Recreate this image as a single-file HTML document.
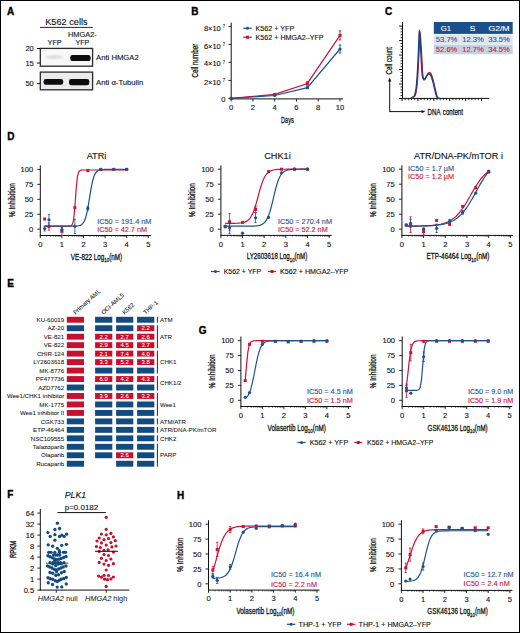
<!DOCTYPE html>
<html><head><meta charset="utf-8"><style>
html,body{margin:0;padding:0;background:#fff;}
body{width:520px;height:633px;overflow:hidden;}
svg{display:block;font-family:"Liberation Sans",sans-serif;}
</style></head><body>
<svg width="520" height="633" viewBox="0 0 520 633" fill="#111">
<rect x="0" y="0" width="520" height="633" fill="#fff"/>
<text x="7.00" y="14.60" font-size="10" font-weight="bold" fill="#000" stroke="#000" stroke-width="0.35">A</text>
<text x="45.20" y="24.60" font-size="9.2" stroke="#111" stroke-width="0.12">K562 cells</text>
<line x1="40.00" y1="27.40" x2="92.80" y2="27.40" stroke="#111" stroke-width="0.9"/>
<text x="82.40" y="36.60" font-size="7.4" text-anchor="middle" stroke="#111" stroke-width="0.12">HMGA2-</text>
<text x="54.60" y="44.60" font-size="7.2" text-anchor="middle" stroke="#111" stroke-width="0.12">YFP</text>
<text x="82.40" y="44.60" font-size="7.2" text-anchor="middle" stroke="#111" stroke-width="0.12">YFP</text>
<defs>
<linearGradient id="bg1" x1="0" y1="0" x2="0" y2="1"><stop offset="0" stop-color="#f4f4f4"/><stop offset="1" stop-color="#eeeeee"/></linearGradient>
<filter id="blur1" x="-20%" y="-50%" width="140%" height="200%"><feGaussianBlur stdDeviation="0.9"/></filter>
<filter id="blur2" x="-20%" y="-50%" width="140%" height="200%"><feGaussianBlur stdDeviation="0.6"/></filter>
</defs>
<rect x="40.30" y="48.40" width="52.30" height="17.80" fill="#f8f8f8" stroke="#2a2a2a" stroke-width="1.3"/>
<ellipse cx="54" cy="57" rx="9" ry="1.4" fill="#d4d4d4" filter="url(#blur1)"/>
<rect x="70.3" y="55.0" width="20.3" height="6.1" rx="2.2" fill="#111" filter="url(#blur2)"/>
<rect x="40.30" y="72.10" width="52.30" height="17.70" fill="#ebebeb" stroke="#2a2a2a" stroke-width="1.3"/>
<rect x="43.6" y="79.0" width="19.6" height="5.8" rx="2.2" fill="#111" filter="url(#blur2)"/>
<rect x="69.0" y="79.0" width="20.3" height="6.2" rx="2.2" fill="#111" filter="url(#blur2)"/>
<line x1="36.90" y1="48.50" x2="40.00" y2="48.50" stroke="#111" stroke-width="1"/>
<text x="33.80" y="51.25" font-size="7.5" text-anchor="end" stroke="#111" stroke-width="0.12">20</text>
<line x1="36.90" y1="63.00" x2="40.00" y2="63.00" stroke="#111" stroke-width="1"/>
<text x="33.80" y="65.75" font-size="7.5" text-anchor="end" stroke="#111" stroke-width="0.12">15</text>
<line x1="36.90" y1="83.60" x2="40.00" y2="83.60" stroke="#111" stroke-width="1"/>
<text x="33.80" y="86.35" font-size="7.5" text-anchor="end" stroke="#111" stroke-width="0.12">50</text>
<text x="96.00" y="59.80" font-size="7.7" stroke="#111" stroke-width="0.12">Anti HMGA2</text>
<text x="96.00" y="84.50" font-size="7.7" stroke="#111" stroke-width="0.12">Anti α-Tubulin</text>
<text x="191.20" y="15.00" font-size="10" font-weight="bold" fill="#000" stroke="#000" stroke-width="0.35">B</text>
<line x1="231.20" y1="22.60" x2="231.20" y2="99.35" stroke="#111" stroke-width="1"/>
<line x1="230.75" y1="98.90" x2="343.00" y2="98.90" stroke="#111" stroke-width="1"/>
<line x1="228.40" y1="98.40" x2="231.20" y2="98.40" stroke="#111" stroke-width="0.9"/>
<text x="225.40" y="101.60" font-size="7.6" text-anchor="end" stroke="#111" stroke-width="0.12">0</text>
<line x1="228.40" y1="80.40" x2="231.20" y2="80.40" stroke="#111" stroke-width="0.9"/>
<text x="220.80" y="84.50" font-size="7.5" text-anchor="end" stroke="#111" stroke-width="0.12">2×10</text>
<text x="222.50" y="81.60" font-size="4.8" stroke="#111" stroke-width="0.05">7</text>
<line x1="228.40" y1="62.30" x2="231.20" y2="62.30" stroke="#111" stroke-width="0.9"/>
<text x="220.80" y="66.40" font-size="7.5" text-anchor="end" stroke="#111" stroke-width="0.12">4×10</text>
<text x="222.50" y="63.50" font-size="4.8" stroke="#111" stroke-width="0.05">7</text>
<line x1="228.40" y1="44.40" x2="231.20" y2="44.40" stroke="#111" stroke-width="0.9"/>
<text x="220.80" y="48.50" font-size="7.5" text-anchor="end" stroke="#111" stroke-width="0.12">6×10</text>
<text x="222.50" y="45.60" font-size="4.8" stroke="#111" stroke-width="0.05">7</text>
<line x1="228.40" y1="26.40" x2="231.20" y2="26.40" stroke="#111" stroke-width="0.9"/>
<text x="220.80" y="30.50" font-size="7.5" text-anchor="end" stroke="#111" stroke-width="0.12">8×10</text>
<text x="222.50" y="27.60" font-size="4.8" stroke="#111" stroke-width="0.05">7</text>
<line x1="231.20" y1="98.90" x2="231.20" y2="101.50" stroke="#111" stroke-width="0.9"/>
<text x="231.20" y="109.90" font-size="7.6" text-anchor="middle" stroke="#111" stroke-width="0.12">0</text>
<line x1="252.96" y1="98.90" x2="252.96" y2="101.50" stroke="#111" stroke-width="0.9"/>
<text x="252.96" y="109.90" font-size="7.6" text-anchor="middle" stroke="#111" stroke-width="0.12">2</text>
<line x1="274.72" y1="98.90" x2="274.72" y2="101.50" stroke="#111" stroke-width="0.9"/>
<text x="274.72" y="109.90" font-size="7.6" text-anchor="middle" stroke="#111" stroke-width="0.12">4</text>
<line x1="296.48" y1="98.90" x2="296.48" y2="101.50" stroke="#111" stroke-width="0.9"/>
<text x="296.48" y="109.90" font-size="7.6" text-anchor="middle" stroke="#111" stroke-width="0.12">6</text>
<line x1="318.24" y1="98.90" x2="318.24" y2="101.50" stroke="#111" stroke-width="0.9"/>
<text x="318.24" y="109.90" font-size="7.6" text-anchor="middle" stroke="#111" stroke-width="0.12">8</text>
<line x1="340.00" y1="98.90" x2="340.00" y2="101.50" stroke="#111" stroke-width="0.9"/>
<text x="340.00" y="109.90" font-size="7.6" text-anchor="middle" stroke="#111" stroke-width="0.12">10</text>
<text transform="translate(287.40 122.60) scale(0.6242 1)" x="0" y="0" text-anchor="middle" stroke="#111" stroke-width="0.28"><tspan font-size="9">Days</tspan></text>
<text transform="translate(197.80 60.60) rotate(-90) scale(0.6945 1)" x="0" y="0" text-anchor="middle" stroke="#111" stroke-width="0.28"><tspan font-size="9">Cell number</tspan></text>
<path d="M231.20,98.40 L274.72,94.44 L307.36,83.46 L340.00,35.40" stroke="#cc1236" stroke-width="1.2" fill="none"/>
<path d="M231.20,98.40 L274.72,95.52 L307.36,87.69 L340.00,48.99" stroke="#1d5290" stroke-width="1.2" fill="none"/>
<line x1="340.00" y1="30.90" x2="340.00" y2="39.90" stroke="#cc1236" stroke-width="0.9"/>
<line x1="338.70" y1="30.90" x2="341.30" y2="30.90" stroke="#cc1236" stroke-width="0.9"/>
<line x1="338.70" y1="39.90" x2="341.30" y2="39.90" stroke="#cc1236" stroke-width="0.9"/>
<line x1="307.36" y1="81.66" x2="307.36" y2="85.26" stroke="#cc1236" stroke-width="0.9"/>
<line x1="306.06" y1="81.66" x2="308.66" y2="81.66" stroke="#cc1236" stroke-width="0.9"/>
<line x1="306.06" y1="85.26" x2="308.66" y2="85.26" stroke="#cc1236" stroke-width="0.9"/>
<line x1="340.00" y1="44.94" x2="340.00" y2="53.04" stroke="#1d5290" stroke-width="0.9"/>
<line x1="338.70" y1="44.94" x2="341.30" y2="44.94" stroke="#1d5290" stroke-width="0.9"/>
<line x1="338.70" y1="53.04" x2="341.30" y2="53.04" stroke="#1d5290" stroke-width="0.9"/>
<line x1="307.36" y1="86.79" x2="307.36" y2="88.59" stroke="#1d5290" stroke-width="0.9"/>
<line x1="306.06" y1="86.79" x2="308.66" y2="86.79" stroke="#1d5290" stroke-width="0.9"/>
<line x1="306.06" y1="88.59" x2="308.66" y2="88.59" stroke="#1d5290" stroke-width="0.9"/>
<rect x="229.70" y="96.90" width="3.00" height="3.00" fill="#cc1236"/>
<rect x="273.22" y="92.94" width="3.00" height="3.00" fill="#cc1236"/>
<rect x="305.86" y="81.96" width="3.00" height="3.00" fill="#cc1236"/>
<rect x="338.50" y="33.90" width="3.00" height="3.00" fill="#cc1236"/>
<circle cx="231.20" cy="98.40" r="1.6" fill="#1d5290"/>
<circle cx="274.72" cy="95.52" r="1.6" fill="#1d5290"/>
<circle cx="307.36" cy="87.69" r="1.6" fill="#1d5290"/>
<circle cx="340.00" cy="48.99" r="1.6" fill="#1d5290"/>
<line x1="243.30" y1="28.20" x2="251.80" y2="28.20" stroke="#1d5290" stroke-width="1.2"/>
<circle cx="247.50" cy="28.20" r="1.5" fill="#1d5290"/>
<text x="255.60" y="30.70" font-size="7.2" textLength="38.6" lengthAdjust="spacingAndGlyphs" stroke="#111" stroke-width="0.12">K562 + YFP</text>
<line x1="243.30" y1="37.20" x2="251.80" y2="37.20" stroke="#cc1236" stroke-width="1.2"/>
<rect x="246.00" y="35.70" width="3.00" height="3.00" fill="#cc1236"/>
<text x="255.60" y="39.70" font-size="7.2" textLength="68" lengthAdjust="spacingAndGlyphs" stroke="#111" stroke-width="0.12">K562 + HMGA2–YFP</text>
<text x="385.00" y="14.80" font-size="10" font-weight="bold" fill="#000" stroke="#000" stroke-width="0.35">C</text>
<line x1="402.50" y1="22.00" x2="402.50" y2="98.90" stroke="#111" stroke-width="1"/>
<line x1="402.00" y1="98.40" x2="489.30" y2="98.40" stroke="#111" stroke-width="1"/>
<line x1="399.10" y1="98.50" x2="402.50" y2="98.50" stroke="#111" stroke-width="1.0"/>
<line x1="400.50" y1="95.60" x2="402.50" y2="95.60" stroke="#111" stroke-width="0.9"/>
<line x1="400.50" y1="92.71" x2="402.50" y2="92.71" stroke="#111" stroke-width="0.9"/>
<line x1="400.50" y1="89.81" x2="402.50" y2="89.81" stroke="#111" stroke-width="0.9"/>
<line x1="400.50" y1="86.92" x2="402.50" y2="86.92" stroke="#111" stroke-width="0.9"/>
<line x1="399.10" y1="84.02" x2="402.50" y2="84.02" stroke="#111" stroke-width="1.0"/>
<line x1="400.50" y1="81.12" x2="402.50" y2="81.12" stroke="#111" stroke-width="0.9"/>
<line x1="400.50" y1="78.23" x2="402.50" y2="78.23" stroke="#111" stroke-width="0.9"/>
<line x1="400.50" y1="75.33" x2="402.50" y2="75.33" stroke="#111" stroke-width="0.9"/>
<line x1="400.50" y1="72.44" x2="402.50" y2="72.44" stroke="#111" stroke-width="0.9"/>
<line x1="399.10" y1="69.54" x2="402.50" y2="69.54" stroke="#111" stroke-width="1.0"/>
<line x1="400.50" y1="66.64" x2="402.50" y2="66.64" stroke="#111" stroke-width="0.9"/>
<line x1="400.50" y1="63.75" x2="402.50" y2="63.75" stroke="#111" stroke-width="0.9"/>
<line x1="400.50" y1="60.85" x2="402.50" y2="60.85" stroke="#111" stroke-width="0.9"/>
<line x1="400.50" y1="57.96" x2="402.50" y2="57.96" stroke="#111" stroke-width="0.9"/>
<line x1="399.10" y1="55.06" x2="402.50" y2="55.06" stroke="#111" stroke-width="1.0"/>
<line x1="400.50" y1="52.16" x2="402.50" y2="52.16" stroke="#111" stroke-width="0.9"/>
<line x1="400.50" y1="49.27" x2="402.50" y2="49.27" stroke="#111" stroke-width="0.9"/>
<line x1="400.50" y1="46.37" x2="402.50" y2="46.37" stroke="#111" stroke-width="0.9"/>
<line x1="400.50" y1="43.48" x2="402.50" y2="43.48" stroke="#111" stroke-width="0.9"/>
<line x1="399.10" y1="40.58" x2="402.50" y2="40.58" stroke="#111" stroke-width="1.0"/>
<line x1="400.50" y1="37.68" x2="402.50" y2="37.68" stroke="#111" stroke-width="0.9"/>
<line x1="400.50" y1="34.79" x2="402.50" y2="34.79" stroke="#111" stroke-width="0.9"/>
<line x1="400.50" y1="31.89" x2="402.50" y2="31.89" stroke="#111" stroke-width="0.9"/>
<line x1="400.50" y1="29.00" x2="402.50" y2="29.00" stroke="#111" stroke-width="0.9"/>
<line x1="399.10" y1="26.10" x2="402.50" y2="26.10" stroke="#111" stroke-width="1.0"/>
<line x1="402.00" y1="98.40" x2="402.00" y2="101.00" stroke="#111" stroke-width="1.0"/>
<line x1="405.18" y1="98.40" x2="405.18" y2="100.20" stroke="#111" stroke-width="0.9"/>
<line x1="408.36" y1="98.40" x2="408.36" y2="100.20" stroke="#111" stroke-width="0.9"/>
<line x1="411.54" y1="98.40" x2="411.54" y2="100.20" stroke="#111" stroke-width="0.9"/>
<line x1="414.72" y1="98.40" x2="414.72" y2="100.20" stroke="#111" stroke-width="0.9"/>
<line x1="417.90" y1="98.40" x2="417.90" y2="101.00" stroke="#111" stroke-width="1.0"/>
<line x1="421.08" y1="98.40" x2="421.08" y2="100.20" stroke="#111" stroke-width="0.9"/>
<line x1="424.26" y1="98.40" x2="424.26" y2="100.20" stroke="#111" stroke-width="0.9"/>
<line x1="427.44" y1="98.40" x2="427.44" y2="100.20" stroke="#111" stroke-width="0.9"/>
<line x1="430.62" y1="98.40" x2="430.62" y2="100.20" stroke="#111" stroke-width="0.9"/>
<line x1="433.80" y1="98.40" x2="433.80" y2="101.00" stroke="#111" stroke-width="1.0"/>
<line x1="436.98" y1="98.40" x2="436.98" y2="100.20" stroke="#111" stroke-width="0.9"/>
<line x1="440.16" y1="98.40" x2="440.16" y2="100.20" stroke="#111" stroke-width="0.9"/>
<line x1="443.34" y1="98.40" x2="443.34" y2="100.20" stroke="#111" stroke-width="0.9"/>
<line x1="446.52" y1="98.40" x2="446.52" y2="100.20" stroke="#111" stroke-width="0.9"/>
<line x1="449.70" y1="98.40" x2="449.70" y2="101.00" stroke="#111" stroke-width="1.0"/>
<line x1="452.88" y1="98.40" x2="452.88" y2="100.20" stroke="#111" stroke-width="0.9"/>
<line x1="456.06" y1="98.40" x2="456.06" y2="100.20" stroke="#111" stroke-width="0.9"/>
<line x1="459.24" y1="98.40" x2="459.24" y2="100.20" stroke="#111" stroke-width="0.9"/>
<line x1="462.42" y1="98.40" x2="462.42" y2="100.20" stroke="#111" stroke-width="0.9"/>
<line x1="465.60" y1="98.40" x2="465.60" y2="101.00" stroke="#111" stroke-width="1.0"/>
<line x1="468.78" y1="98.40" x2="468.78" y2="100.20" stroke="#111" stroke-width="0.9"/>
<line x1="471.96" y1="98.40" x2="471.96" y2="100.20" stroke="#111" stroke-width="0.9"/>
<line x1="475.14" y1="98.40" x2="475.14" y2="100.20" stroke="#111" stroke-width="0.9"/>
<line x1="478.32" y1="98.40" x2="478.32" y2="100.20" stroke="#111" stroke-width="0.9"/>
<line x1="481.50" y1="98.40" x2="481.50" y2="101.00" stroke="#111" stroke-width="1.0"/>
<line x1="389.70" y1="111.60" x2="389.70" y2="80.50" stroke="#111" stroke-width="1"/>
<path d="M389.7,77.6 L391.4,81.4 L388.0,81.4 Z" fill="#1a1a1a"/>
<line x1="389.20" y1="111.60" x2="422.40" y2="111.60" stroke="#111" stroke-width="1"/>
<path d="M425.4,111.6 L421.6,113.3 L421.6,109.9 Z" fill="#1a1a1a"/>
<text transform="translate(427.60 114.70) scale(0.6934 1)" x="0" y="0" text-anchor="start" stroke="#111" stroke-width="0.28" word-spacing="1.5"><tspan font-size="8.8">DNA content</tspan></text>
<text transform="translate(392.40 60.70) rotate(-90) scale(0.6896 1)" x="0" y="0" text-anchor="middle" stroke="#111" stroke-width="0.28"><tspan font-size="9">Cell count</tspan></text>
<path d="M410.50,98.40 C410.77,98.30 411.33,98.30 412.10,97.80 C412.87,97.30 414.32,97.08 415.10,95.40 C415.88,93.72 416.32,91.55 416.80,87.70 C417.28,83.85 417.65,77.82 418.00,72.30 C418.35,66.78 418.62,60.33 418.90,54.60 C419.18,48.87 419.50,41.58 419.70,37.90 C419.90,34.22 419.95,32.50 420.10,32.50 C420.25,32.50 420.35,34.22 420.60,37.90 C420.85,41.58 421.23,48.47 421.60,54.60 C421.97,60.73 422.35,70.52 422.80,74.70 C423.25,78.88 423.73,79.40 424.30,79.70 C424.87,80.00 425.48,77.63 426.20,76.50 C426.92,75.37 428.00,73.55 428.60,72.90 C429.20,72.25 429.32,72.30 429.80,72.60 C430.28,72.90 430.90,73.27 431.50,74.70 C432.10,76.13 432.78,78.83 433.40,81.20 C434.02,83.57 434.60,86.43 435.20,88.90 C435.80,91.37 436.52,94.47 437.00,96.00 C437.48,97.53 437.68,97.70 438.10,98.10 C438.52,98.50 439.27,98.35 439.50,98.40" stroke="#cc1236" stroke-width="1.3" fill="none"/>
<path d="M410.50,98.40 C410.77,98.30 411.43,98.30 412.10,97.80 C412.77,97.30 413.82,97.08 414.50,95.40 C415.18,93.72 415.72,91.55 416.20,87.70 C416.68,83.85 417.05,77.82 417.40,72.30 C417.75,66.78 418.03,60.70 418.30,54.60 C418.57,48.50 418.82,39.75 419.00,35.70 C419.18,31.65 419.25,30.30 419.40,30.30 C419.55,30.30 419.63,31.65 419.90,35.70 C420.17,39.75 420.62,48.10 421.00,54.60 C421.38,61.10 421.75,70.52 422.20,74.70 C422.65,78.88 423.12,79.20 423.70,79.70 C424.28,80.20 424.97,78.63 425.70,77.70 C426.43,76.77 427.50,74.75 428.10,74.10 C428.70,73.45 428.82,73.50 429.30,73.80 C429.78,74.10 430.42,74.67 431.00,75.90 C431.58,77.13 432.20,79.03 432.80,81.20 C433.40,83.37 434.00,86.43 434.60,88.90 C435.20,91.37 435.82,94.47 436.40,96.00 C436.98,97.53 437.58,97.70 438.10,98.10 C438.62,98.50 439.27,98.35 439.50,98.40" stroke="#1b427f" stroke-width="1.4" fill="none"/>
<rect x="433.80" y="22.00" width="78.90" height="11.90" fill="#1a4f8b"/>
<rect x="433.80" y="34.70" width="78.90" height="9.30" fill="#dfe6ef"/>
<rect x="433.80" y="44.60" width="78.90" height="9.70" fill="#c4d3e3"/>
<text x="445.80" y="31.20" font-size="7.8" text-anchor="middle" fill="#fff" textLength="10.1" lengthAdjust="spacingAndGlyphs" stroke="#fff" stroke-width="0.12">G1</text>
<text x="472.60" y="31.20" font-size="7.8" text-anchor="middle" fill="#fff" textLength="5.6" lengthAdjust="spacingAndGlyphs" stroke="#fff" stroke-width="0.12">S</text>
<text x="499.00" y="31.20" font-size="7.8" text-anchor="middle" fill="#fff" textLength="21.2" lengthAdjust="spacingAndGlyphs" stroke="#fff" stroke-width="0.12">G2/M</text>
<text x="446.60" y="41.50" font-size="7.5" text-anchor="middle" fill="#2b5c92" textLength="21.5" lengthAdjust="spacingAndGlyphs" stroke="#2b5c92" stroke-width="0.12">53.7%</text>
<text x="473.05" y="41.50" font-size="7.5" text-anchor="middle" fill="#2b5c92" textLength="21.5" lengthAdjust="spacingAndGlyphs" stroke="#2b5c92" stroke-width="0.12">12.3%</text>
<text x="499.00" y="41.50" font-size="7.5" text-anchor="middle" fill="#2b5c92" textLength="21.5" lengthAdjust="spacingAndGlyphs" stroke="#2b5c92" stroke-width="0.12">33.5%</text>
<text x="446.60" y="51.50" font-size="7.5" text-anchor="middle" fill="#c81d3b" textLength="21.5" lengthAdjust="spacingAndGlyphs" stroke="#c81d3b" stroke-width="0.12">52.6%</text>
<text x="473.05" y="51.50" font-size="7.5" text-anchor="middle" fill="#c81d3b" textLength="21.5" lengthAdjust="spacingAndGlyphs" stroke="#c81d3b" stroke-width="0.12">12.7%</text>
<text x="499.00" y="51.50" font-size="7.5" text-anchor="middle" fill="#c81d3b" textLength="21.5" lengthAdjust="spacingAndGlyphs" stroke="#c81d3b" stroke-width="0.12">34.5%</text>
<text x="7.30" y="139.80" font-size="10" font-weight="bold" fill="#000" stroke="#000" stroke-width="0.35">D</text>
<line x1="40.30" y1="165.40" x2="40.30" y2="236.00" stroke="#111" stroke-width="1"/>
<line x1="39.80" y1="235.50" x2="150.80" y2="235.50" stroke="#111" stroke-width="1"/>
<line x1="37.30" y1="229.20" x2="40.30" y2="229.20" stroke="#111" stroke-width="0.9"/>
<text x="33.20" y="231.90" font-size="7.6" text-anchor="end" stroke="#111" stroke-width="0.12">0</text>
<line x1="37.30" y1="214.25" x2="40.30" y2="214.25" stroke="#111" stroke-width="0.9"/>
<text x="33.20" y="216.95" font-size="7.6" text-anchor="end" stroke="#111" stroke-width="0.12">25</text>
<line x1="37.30" y1="199.30" x2="40.30" y2="199.30" stroke="#111" stroke-width="0.9"/>
<text x="33.20" y="202.00" font-size="7.6" text-anchor="end" stroke="#111" stroke-width="0.12">50</text>
<line x1="37.30" y1="184.35" x2="40.30" y2="184.35" stroke="#111" stroke-width="0.9"/>
<text x="33.20" y="187.05" font-size="7.6" text-anchor="end" stroke="#111" stroke-width="0.12">75</text>
<line x1="37.30" y1="169.40" x2="40.30" y2="169.40" stroke="#111" stroke-width="0.9"/>
<text x="33.20" y="172.10" font-size="7.6" text-anchor="end" stroke="#111" stroke-width="0.12">100</text>
<line x1="40.30" y1="235.50" x2="40.30" y2="238.10" stroke="#111" stroke-width="0.9"/>
<text x="40.30" y="246.80" font-size="7.6" text-anchor="middle" stroke="#111" stroke-width="0.12">0</text>
<line x1="46.80" y1="235.50" x2="46.80" y2="236.80" stroke="#111" stroke-width="0.6"/>
<line x1="50.61" y1="235.50" x2="50.61" y2="236.80" stroke="#111" stroke-width="0.6"/>
<line x1="53.30" y1="235.50" x2="53.30" y2="236.80" stroke="#111" stroke-width="0.6"/>
<line x1="55.40" y1="235.50" x2="55.40" y2="236.80" stroke="#111" stroke-width="0.6"/>
<line x1="57.11" y1="235.50" x2="57.11" y2="236.80" stroke="#111" stroke-width="0.6"/>
<line x1="58.55" y1="235.50" x2="58.55" y2="236.80" stroke="#111" stroke-width="0.6"/>
<line x1="59.81" y1="235.50" x2="59.81" y2="236.80" stroke="#111" stroke-width="0.6"/>
<line x1="60.91" y1="235.50" x2="60.91" y2="236.80" stroke="#111" stroke-width="0.6"/>
<line x1="61.90" y1="235.50" x2="61.90" y2="238.10" stroke="#111" stroke-width="0.9"/>
<text x="61.90" y="246.80" font-size="7.6" text-anchor="middle" stroke="#111" stroke-width="0.12">1</text>
<line x1="68.40" y1="235.50" x2="68.40" y2="236.80" stroke="#111" stroke-width="0.6"/>
<line x1="72.21" y1="235.50" x2="72.21" y2="236.80" stroke="#111" stroke-width="0.6"/>
<line x1="74.90" y1="235.50" x2="74.90" y2="236.80" stroke="#111" stroke-width="0.6"/>
<line x1="77.00" y1="235.50" x2="77.00" y2="236.80" stroke="#111" stroke-width="0.6"/>
<line x1="78.71" y1="235.50" x2="78.71" y2="236.80" stroke="#111" stroke-width="0.6"/>
<line x1="80.15" y1="235.50" x2="80.15" y2="236.80" stroke="#111" stroke-width="0.6"/>
<line x1="81.41" y1="235.50" x2="81.41" y2="236.80" stroke="#111" stroke-width="0.6"/>
<line x1="82.51" y1="235.50" x2="82.51" y2="236.80" stroke="#111" stroke-width="0.6"/>
<line x1="83.50" y1="235.50" x2="83.50" y2="238.10" stroke="#111" stroke-width="0.9"/>
<text x="83.50" y="246.80" font-size="7.6" text-anchor="middle" stroke="#111" stroke-width="0.12">2</text>
<line x1="90.00" y1="235.50" x2="90.00" y2="236.80" stroke="#111" stroke-width="0.6"/>
<line x1="93.81" y1="235.50" x2="93.81" y2="236.80" stroke="#111" stroke-width="0.6"/>
<line x1="96.50" y1="235.50" x2="96.50" y2="236.80" stroke="#111" stroke-width="0.6"/>
<line x1="98.60" y1="235.50" x2="98.60" y2="236.80" stroke="#111" stroke-width="0.6"/>
<line x1="100.31" y1="235.50" x2="100.31" y2="236.80" stroke="#111" stroke-width="0.6"/>
<line x1="101.75" y1="235.50" x2="101.75" y2="236.80" stroke="#111" stroke-width="0.6"/>
<line x1="103.01" y1="235.50" x2="103.01" y2="236.80" stroke="#111" stroke-width="0.6"/>
<line x1="104.11" y1="235.50" x2="104.11" y2="236.80" stroke="#111" stroke-width="0.6"/>
<line x1="105.10" y1="235.50" x2="105.10" y2="238.10" stroke="#111" stroke-width="0.9"/>
<text x="105.10" y="246.80" font-size="7.6" text-anchor="middle" stroke="#111" stroke-width="0.12">3</text>
<line x1="111.60" y1="235.50" x2="111.60" y2="236.80" stroke="#111" stroke-width="0.6"/>
<line x1="115.41" y1="235.50" x2="115.41" y2="236.80" stroke="#111" stroke-width="0.6"/>
<line x1="118.10" y1="235.50" x2="118.10" y2="236.80" stroke="#111" stroke-width="0.6"/>
<line x1="120.20" y1="235.50" x2="120.20" y2="236.80" stroke="#111" stroke-width="0.6"/>
<line x1="121.91" y1="235.50" x2="121.91" y2="236.80" stroke="#111" stroke-width="0.6"/>
<line x1="123.35" y1="235.50" x2="123.35" y2="236.80" stroke="#111" stroke-width="0.6"/>
<line x1="124.61" y1="235.50" x2="124.61" y2="236.80" stroke="#111" stroke-width="0.6"/>
<line x1="125.71" y1="235.50" x2="125.71" y2="236.80" stroke="#111" stroke-width="0.6"/>
<line x1="126.70" y1="235.50" x2="126.70" y2="238.10" stroke="#111" stroke-width="0.9"/>
<text x="126.70" y="246.80" font-size="7.6" text-anchor="middle" stroke="#111" stroke-width="0.12">4</text>
<line x1="133.20" y1="235.50" x2="133.20" y2="236.80" stroke="#111" stroke-width="0.6"/>
<line x1="137.01" y1="235.50" x2="137.01" y2="236.80" stroke="#111" stroke-width="0.6"/>
<line x1="139.70" y1="235.50" x2="139.70" y2="236.80" stroke="#111" stroke-width="0.6"/>
<line x1="141.80" y1="235.50" x2="141.80" y2="236.80" stroke="#111" stroke-width="0.6"/>
<line x1="143.51" y1="235.50" x2="143.51" y2="236.80" stroke="#111" stroke-width="0.6"/>
<line x1="144.95" y1="235.50" x2="144.95" y2="236.80" stroke="#111" stroke-width="0.6"/>
<line x1="146.21" y1="235.50" x2="146.21" y2="236.80" stroke="#111" stroke-width="0.6"/>
<line x1="147.31" y1="235.50" x2="147.31" y2="236.80" stroke="#111" stroke-width="0.6"/>
<line x1="148.30" y1="235.50" x2="148.30" y2="238.10" stroke="#111" stroke-width="0.9"/>
<text x="148.30" y="246.80" font-size="7.6" text-anchor="middle" stroke="#111" stroke-width="0.12">5</text>
<text transform="translate(96.50 259.50) scale(0.7540 1)" x="0" y="0" text-anchor="middle" stroke="#111" stroke-width="0.28"><tspan font-size="8.4">VE-822 Log</tspan><tspan font-size="5.88" dy="2.10">10</tspan><tspan font-size="8.4" dy="-2.1">(nM)</tspan></text>
<text transform="translate(14.50 200.25) rotate(-90) scale(0.7517 1)" x="0" y="0" text-anchor="middle" stroke="#111" stroke-width="0.28"><tspan font-size="8.8">% Inhibition</tspan></text>
<text x="96.50" y="159.20" font-size="9.2" text-anchor="middle" stroke="#111" stroke-width="0.12">ATRi</text>
<path d="M44.62,226.21 L45.99,226.21 L47.36,226.21 L48.72,226.21 L50.09,226.21 L51.46,226.21 L52.83,226.21 L54.20,226.21 L55.56,226.21 L56.93,226.21 L58.30,226.21 L59.67,226.21 L61.04,226.21 L62.40,226.21 L63.77,226.21 L65.14,226.21 L66.51,226.21 L67.88,226.19 L69.24,226.14 L70.61,225.91 L71.98,224.93 L73.35,221.10 L74.72,209.31 L76.08,189.74 L77.45,176.28 L78.82,171.60 L80.19,170.38 L81.56,170.09 L82.92,170.02 L84.29,170.00 L85.66,170.00 L87.03,170.00 L88.40,170.00 L89.76,170.00 L91.13,170.00 L92.50,170.00 L93.87,170.00 L95.24,170.00 L96.60,170.00 L97.97,170.00 L99.34,170.00 L100.71,170.00 L102.08,170.00 L103.44,170.00 L104.81,170.00 L106.18,170.00 L107.55,170.00 L108.92,170.00 L110.28,170.00 L111.65,170.00 L113.02,170.00 L114.39,170.00 L115.76,170.00 L117.12,170.00 L118.49,170.00 L119.86,170.00 L121.23,170.00 L122.60,170.00 L123.96,170.00 L125.33,170.00 L126.70,170.00" stroke="#cc1236" stroke-width="1.2" fill="none"/>
<path d="M44.62,226.21 L45.99,226.21 L47.36,226.21 L48.72,226.21 L50.09,226.21 L51.46,226.21 L52.83,226.21 L54.20,226.21 L55.56,226.21 L56.93,226.21 L58.30,226.21 L59.67,226.21 L61.04,226.21 L62.40,226.21 L63.77,226.21 L65.14,226.21 L66.51,226.21 L67.88,226.21 L69.24,226.20 L70.61,226.20 L71.98,226.19 L73.35,226.17 L74.72,226.14 L76.08,226.07 L77.45,225.96 L78.82,225.75 L80.19,225.36 L81.56,224.67 L82.92,223.43 L84.29,221.28 L85.66,217.73 L87.03,212.32 L88.40,204.97 L89.76,196.43 L91.13,188.13 L92.50,181.36 L93.87,176.57 L95.24,173.53 L96.60,171.71 L97.97,170.68 L99.34,170.10 L100.71,169.78 L102.08,169.61 L103.44,169.51 L104.81,169.46 L106.18,169.43 L107.55,169.42 L108.92,169.41 L110.28,169.41 L111.65,169.40 L113.02,169.40 L114.39,169.40 L115.76,169.40 L117.12,169.40 L118.49,169.40 L119.86,169.40 L121.23,169.40 L122.60,169.40 L123.96,169.40 L125.33,169.40 L126.70,169.40" stroke="#1d5290" stroke-width="1.2" fill="none"/>
<rect x="43.12" y="217.53" width="3.00" height="3.00" fill="#cc1236"/>
<line x1="48.94" y1="222.98" x2="48.94" y2="230.16" stroke="#cc1236" stroke-width="0.8"/>
<line x1="47.74" y1="222.98" x2="50.14" y2="222.98" stroke="#cc1236" stroke-width="0.8"/>
<line x1="47.74" y1="230.16" x2="50.14" y2="230.16" stroke="#cc1236" stroke-width="0.8"/>
<rect x="47.44" y="225.07" width="3.00" height="3.00" fill="#cc1236"/>
<line x1="61.90" y1="227.17" x2="61.90" y2="235.54" stroke="#cc1236" stroke-width="0.8"/>
<line x1="60.70" y1="227.17" x2="63.10" y2="227.17" stroke="#cc1236" stroke-width="0.8"/>
<line x1="60.70" y1="235.54" x2="63.10" y2="235.54" stroke="#cc1236" stroke-width="0.8"/>
<rect x="60.40" y="229.85" width="3.00" height="3.00" fill="#cc1236"/>
<rect x="73.36" y="206.17" width="3.00" height="3.00" fill="#cc1236"/>
<rect x="86.32" y="169.10" width="3.00" height="3.00" fill="#cc1236"/>
<rect x="99.28" y="167.90" width="3.00" height="3.00" fill="#cc1236"/>
<rect x="112.24" y="167.90" width="3.00" height="3.00" fill="#cc1236"/>
<rect x="125.20" y="167.90" width="3.00" height="3.00" fill="#cc1236"/>
<line x1="44.62" y1="226.21" x2="44.62" y2="230.99" stroke="#1d5290" stroke-width="0.8"/>
<line x1="43.42" y1="226.21" x2="45.82" y2="226.21" stroke="#1d5290" stroke-width="0.8"/>
<line x1="43.42" y1="230.99" x2="45.82" y2="230.99" stroke="#1d5290" stroke-width="0.8"/>
<circle cx="44.62" cy="228.60" r="1.6" fill="#1d5290"/>
<line x1="48.94" y1="214.37" x2="48.94" y2="225.13" stroke="#1d5290" stroke-width="0.8"/>
<line x1="47.74" y1="214.37" x2="50.14" y2="214.37" stroke="#1d5290" stroke-width="0.8"/>
<line x1="47.74" y1="225.13" x2="50.14" y2="225.13" stroke="#1d5290" stroke-width="0.8"/>
<circle cx="48.94" cy="219.75" r="1.6" fill="#1d5290"/>
<line x1="61.90" y1="227.11" x2="61.90" y2="231.89" stroke="#1d5290" stroke-width="0.8"/>
<line x1="60.70" y1="227.11" x2="63.10" y2="227.11" stroke="#1d5290" stroke-width="0.8"/>
<line x1="60.70" y1="231.89" x2="63.10" y2="231.89" stroke="#1d5290" stroke-width="0.8"/>
<circle cx="61.90" cy="229.50" r="1.6" fill="#1d5290"/>
<line x1="74.86" y1="219.15" x2="74.86" y2="233.51" stroke="#1d5290" stroke-width="0.8"/>
<line x1="73.66" y1="219.15" x2="76.06" y2="219.15" stroke="#1d5290" stroke-width="0.8"/>
<line x1="73.66" y1="233.51" x2="76.06" y2="233.51" stroke="#1d5290" stroke-width="0.8"/>
<circle cx="74.86" cy="226.33" r="1.6" fill="#1d5290"/>
<line x1="87.82" y1="206.66" x2="87.82" y2="210.24" stroke="#1d5290" stroke-width="0.8"/>
<line x1="86.62" y1="206.66" x2="89.02" y2="206.66" stroke="#1d5290" stroke-width="0.8"/>
<line x1="86.62" y1="210.24" x2="89.02" y2="210.24" stroke="#1d5290" stroke-width="0.8"/>
<circle cx="87.82" cy="208.45" r="1.6" fill="#1d5290"/>
<circle cx="100.78" cy="169.40" r="1.6" fill="#1d5290"/>
<circle cx="113.74" cy="169.40" r="1.6" fill="#1d5290"/>
<circle cx="126.70" cy="169.40" r="1.6" fill="#1d5290"/>
<text x="97.20" y="224.10" font-size="7.3" fill="#1d5290" textLength="54.2" lengthAdjust="spacingAndGlyphs" stroke="#1d5290" stroke-width="0.12">IC50 = 191.4 nM</text>
<text x="97.20" y="232.20" font-size="7.3" fill="#cc1236" textLength="49.8" lengthAdjust="spacingAndGlyphs" stroke="#cc1236" stroke-width="0.12">IC50 = 42.7 nM</text>
<line x1="220.90" y1="165.30" x2="220.90" y2="235.90" stroke="#111" stroke-width="1"/>
<line x1="220.40" y1="235.40" x2="331.65" y2="235.40" stroke="#111" stroke-width="1"/>
<line x1="217.90" y1="229.20" x2="220.90" y2="229.20" stroke="#111" stroke-width="0.9"/>
<text x="213.80" y="231.90" font-size="7.6" text-anchor="end" stroke="#111" stroke-width="0.12">0</text>
<line x1="217.90" y1="214.20" x2="220.90" y2="214.20" stroke="#111" stroke-width="0.9"/>
<text x="213.80" y="216.90" font-size="7.6" text-anchor="end" stroke="#111" stroke-width="0.12">25</text>
<line x1="217.90" y1="199.20" x2="220.90" y2="199.20" stroke="#111" stroke-width="0.9"/>
<text x="213.80" y="201.90" font-size="7.6" text-anchor="end" stroke="#111" stroke-width="0.12">50</text>
<line x1="217.90" y1="184.20" x2="220.90" y2="184.20" stroke="#111" stroke-width="0.9"/>
<text x="213.80" y="186.90" font-size="7.6" text-anchor="end" stroke="#111" stroke-width="0.12">75</text>
<line x1="217.90" y1="169.20" x2="220.90" y2="169.20" stroke="#111" stroke-width="0.9"/>
<text x="213.80" y="171.90" font-size="7.6" text-anchor="end" stroke="#111" stroke-width="0.12">100</text>
<line x1="220.90" y1="235.40" x2="220.90" y2="238.00" stroke="#111" stroke-width="0.9"/>
<text x="220.90" y="246.70" font-size="7.6" text-anchor="middle" stroke="#111" stroke-width="0.12">0</text>
<line x1="227.42" y1="235.40" x2="227.42" y2="236.70" stroke="#111" stroke-width="0.6"/>
<line x1="231.23" y1="235.40" x2="231.23" y2="236.70" stroke="#111" stroke-width="0.6"/>
<line x1="233.93" y1="235.40" x2="233.93" y2="236.70" stroke="#111" stroke-width="0.6"/>
<line x1="236.03" y1="235.40" x2="236.03" y2="236.70" stroke="#111" stroke-width="0.6"/>
<line x1="237.75" y1="235.40" x2="237.75" y2="236.70" stroke="#111" stroke-width="0.6"/>
<line x1="239.20" y1="235.40" x2="239.20" y2="236.70" stroke="#111" stroke-width="0.6"/>
<line x1="240.45" y1="235.40" x2="240.45" y2="236.70" stroke="#111" stroke-width="0.6"/>
<line x1="241.56" y1="235.40" x2="241.56" y2="236.70" stroke="#111" stroke-width="0.6"/>
<line x1="242.55" y1="235.40" x2="242.55" y2="238.00" stroke="#111" stroke-width="0.9"/>
<text x="242.55" y="246.70" font-size="7.6" text-anchor="middle" stroke="#111" stroke-width="0.12">1</text>
<line x1="249.07" y1="235.40" x2="249.07" y2="236.70" stroke="#111" stroke-width="0.6"/>
<line x1="252.88" y1="235.40" x2="252.88" y2="236.70" stroke="#111" stroke-width="0.6"/>
<line x1="255.58" y1="235.40" x2="255.58" y2="236.70" stroke="#111" stroke-width="0.6"/>
<line x1="257.68" y1="235.40" x2="257.68" y2="236.70" stroke="#111" stroke-width="0.6"/>
<line x1="259.40" y1="235.40" x2="259.40" y2="236.70" stroke="#111" stroke-width="0.6"/>
<line x1="260.85" y1="235.40" x2="260.85" y2="236.70" stroke="#111" stroke-width="0.6"/>
<line x1="262.10" y1="235.40" x2="262.10" y2="236.70" stroke="#111" stroke-width="0.6"/>
<line x1="263.21" y1="235.40" x2="263.21" y2="236.70" stroke="#111" stroke-width="0.6"/>
<line x1="264.20" y1="235.40" x2="264.20" y2="238.00" stroke="#111" stroke-width="0.9"/>
<text x="264.20" y="246.70" font-size="7.6" text-anchor="middle" stroke="#111" stroke-width="0.12">2</text>
<line x1="270.72" y1="235.40" x2="270.72" y2="236.70" stroke="#111" stroke-width="0.6"/>
<line x1="274.53" y1="235.40" x2="274.53" y2="236.70" stroke="#111" stroke-width="0.6"/>
<line x1="277.23" y1="235.40" x2="277.23" y2="236.70" stroke="#111" stroke-width="0.6"/>
<line x1="279.33" y1="235.40" x2="279.33" y2="236.70" stroke="#111" stroke-width="0.6"/>
<line x1="281.05" y1="235.40" x2="281.05" y2="236.70" stroke="#111" stroke-width="0.6"/>
<line x1="282.50" y1="235.40" x2="282.50" y2="236.70" stroke="#111" stroke-width="0.6"/>
<line x1="283.75" y1="235.40" x2="283.75" y2="236.70" stroke="#111" stroke-width="0.6"/>
<line x1="284.86" y1="235.40" x2="284.86" y2="236.70" stroke="#111" stroke-width="0.6"/>
<line x1="285.85" y1="235.40" x2="285.85" y2="238.00" stroke="#111" stroke-width="0.9"/>
<text x="285.85" y="246.70" font-size="7.6" text-anchor="middle" stroke="#111" stroke-width="0.12">3</text>
<line x1="292.37" y1="235.40" x2="292.37" y2="236.70" stroke="#111" stroke-width="0.6"/>
<line x1="296.18" y1="235.40" x2="296.18" y2="236.70" stroke="#111" stroke-width="0.6"/>
<line x1="298.88" y1="235.40" x2="298.88" y2="236.70" stroke="#111" stroke-width="0.6"/>
<line x1="300.98" y1="235.40" x2="300.98" y2="236.70" stroke="#111" stroke-width="0.6"/>
<line x1="302.70" y1="235.40" x2="302.70" y2="236.70" stroke="#111" stroke-width="0.6"/>
<line x1="304.15" y1="235.40" x2="304.15" y2="236.70" stroke="#111" stroke-width="0.6"/>
<line x1="305.40" y1="235.40" x2="305.40" y2="236.70" stroke="#111" stroke-width="0.6"/>
<line x1="306.51" y1="235.40" x2="306.51" y2="236.70" stroke="#111" stroke-width="0.6"/>
<line x1="307.50" y1="235.40" x2="307.50" y2="238.00" stroke="#111" stroke-width="0.9"/>
<text x="307.50" y="246.70" font-size="7.6" text-anchor="middle" stroke="#111" stroke-width="0.12">4</text>
<line x1="314.02" y1="235.40" x2="314.02" y2="236.70" stroke="#111" stroke-width="0.6"/>
<line x1="317.83" y1="235.40" x2="317.83" y2="236.70" stroke="#111" stroke-width="0.6"/>
<line x1="320.53" y1="235.40" x2="320.53" y2="236.70" stroke="#111" stroke-width="0.6"/>
<line x1="322.63" y1="235.40" x2="322.63" y2="236.70" stroke="#111" stroke-width="0.6"/>
<line x1="324.35" y1="235.40" x2="324.35" y2="236.70" stroke="#111" stroke-width="0.6"/>
<line x1="325.80" y1="235.40" x2="325.80" y2="236.70" stroke="#111" stroke-width="0.6"/>
<line x1="327.05" y1="235.40" x2="327.05" y2="236.70" stroke="#111" stroke-width="0.6"/>
<line x1="328.16" y1="235.40" x2="328.16" y2="236.70" stroke="#111" stroke-width="0.6"/>
<line x1="329.15" y1="235.40" x2="329.15" y2="238.00" stroke="#111" stroke-width="0.9"/>
<text x="329.15" y="246.70" font-size="7.6" text-anchor="middle" stroke="#111" stroke-width="0.12">5</text>
<text transform="translate(277.00 259.40) scale(0.7333 1)" x="0" y="0" text-anchor="middle" stroke="#111" stroke-width="0.28"><tspan font-size="8.4">LY2603618 Log</tspan><tspan font-size="5.88" dy="2.10">10</tspan><tspan font-size="8.4" dy="-2.1">(nM)</tspan></text>
<text transform="translate(195.10 200.10) rotate(-90) scale(0.7517 1)" x="0" y="0" text-anchor="middle" stroke="#111" stroke-width="0.28"><tspan font-size="8.8">% Inhibition</tspan></text>
<text x="277.50" y="159.20" font-size="9.2" text-anchor="middle" stroke="#111" stroke-width="0.12">CHK1i</text>
<path d="M225.23,223.37 L226.60,223.37 L227.97,223.37 L229.34,223.36 L230.71,223.35 L232.09,223.34 L233.46,223.32 L234.83,223.29 L236.20,223.25 L237.57,223.20 L238.94,223.11 L240.31,222.99 L241.68,222.81 L243.06,222.56 L244.43,222.18 L245.80,221.65 L247.17,220.89 L248.54,219.82 L249.91,218.33 L251.28,216.30 L252.65,213.63 L254.02,210.23 L255.40,206.10 L256.77,201.37 L258.14,196.29 L259.51,191.21 L260.88,186.48 L262.25,182.35 L263.62,178.95 L264.99,176.28 L266.37,174.25 L267.74,172.76 L269.11,171.69 L270.48,170.93 L271.85,170.40 L273.22,170.02 L274.59,169.77 L275.96,169.59 L277.33,169.47 L278.71,169.38 L280.08,169.33 L281.45,169.29 L282.82,169.26 L284.19,169.24 L285.56,169.23 L286.93,169.22 L288.30,169.21 L289.67,169.21 L291.05,169.21 L292.42,169.20 L293.79,169.20 L295.16,169.20 L296.53,169.20 L297.90,169.20 L299.27,169.20 L300.64,169.20 L302.02,169.20 L303.39,169.20 L304.76,169.20 L306.13,169.20 L307.50,169.20" stroke="#cc1236" stroke-width="1.2" fill="none"/>
<path d="M225.23,226.20 L226.60,226.20 L227.97,226.20 L229.34,226.20 L230.71,226.20 L232.09,226.20 L233.46,226.20 L234.83,226.20 L236.20,226.20 L237.57,226.20 L238.94,226.20 L240.31,226.20 L241.68,226.20 L243.06,226.19 L244.43,226.19 L245.80,226.19 L247.17,226.18 L248.54,226.17 L249.91,226.15 L251.28,226.12 L252.65,226.09 L254.02,226.03 L255.40,225.94 L256.77,225.81 L258.14,225.62 L259.51,225.33 L260.88,224.90 L262.25,224.27 L263.62,223.35 L264.99,222.02 L266.37,220.13 L267.74,217.54 L269.11,214.10 L270.48,209.75 L271.85,204.60 L273.22,198.92 L274.59,193.15 L275.96,187.73 L277.33,183.02 L278.71,179.20 L280.08,176.26 L281.45,174.10 L282.82,172.55 L284.19,171.47 L285.56,170.73 L286.93,170.23 L288.30,169.89 L289.67,169.66 L291.05,169.51 L292.42,169.40 L293.79,169.34 L295.16,169.29 L296.53,169.26 L297.90,169.24 L299.27,169.23 L300.64,169.22 L302.02,169.21 L303.39,169.21 L304.76,169.21 L306.13,169.20 L307.50,169.20" stroke="#1d5290" stroke-width="1.2" fill="none"/>
<rect x="223.73" y="225.30" width="3.00" height="3.00" fill="#cc1236"/>
<line x1="229.56" y1="213.36" x2="229.56" y2="230.16" stroke="#cc1236" stroke-width="0.8"/>
<line x1="228.36" y1="213.36" x2="230.76" y2="213.36" stroke="#cc1236" stroke-width="0.8"/>
<line x1="228.36" y1="230.16" x2="230.76" y2="230.16" stroke="#cc1236" stroke-width="0.8"/>
<rect x="228.06" y="220.26" width="3.00" height="3.00" fill="#cc1236"/>
<rect x="241.05" y="220.86" width="3.00" height="3.00" fill="#cc1236"/>
<line x1="255.54" y1="206.40" x2="255.54" y2="212.40" stroke="#cc1236" stroke-width="0.8"/>
<line x1="254.34" y1="206.40" x2="256.74" y2="206.40" stroke="#cc1236" stroke-width="0.8"/>
<line x1="254.34" y1="212.40" x2="256.74" y2="212.40" stroke="#cc1236" stroke-width="0.8"/>
<rect x="254.04" y="207.90" width="3.00" height="3.00" fill="#cc1236"/>
<rect x="267.03" y="170.10" width="3.00" height="3.00" fill="#cc1236"/>
<rect x="280.02" y="167.70" width="3.00" height="3.00" fill="#cc1236"/>
<rect x="293.01" y="167.70" width="3.00" height="3.00" fill="#cc1236"/>
<rect x="306.00" y="167.70" width="3.00" height="3.00" fill="#cc1236"/>
<circle cx="225.23" cy="226.20" r="1.6" fill="#1d5290"/>
<line x1="229.56" y1="221.70" x2="229.56" y2="233.70" stroke="#1d5290" stroke-width="0.8"/>
<line x1="228.36" y1="221.70" x2="230.76" y2="221.70" stroke="#1d5290" stroke-width="0.8"/>
<line x1="228.36" y1="233.70" x2="230.76" y2="233.70" stroke="#1d5290" stroke-width="0.8"/>
<circle cx="229.56" cy="227.70" r="1.6" fill="#1d5290"/>
<circle cx="242.55" cy="233.16" r="1.6" fill="#1d5290"/>
<line x1="255.54" y1="213.00" x2="255.54" y2="222.60" stroke="#1d5290" stroke-width="0.8"/>
<line x1="254.34" y1="213.00" x2="256.74" y2="213.00" stroke="#1d5290" stroke-width="0.8"/>
<line x1="254.34" y1="222.60" x2="256.74" y2="222.60" stroke="#1d5290" stroke-width="0.8"/>
<circle cx="255.54" cy="217.80" r="1.6" fill="#1d5290"/>
<circle cx="268.53" cy="217.44" r="1.6" fill="#1d5290"/>
<circle cx="281.52" cy="172.80" r="1.6" fill="#1d5290"/>
<circle cx="294.51" cy="169.20" r="1.6" fill="#1d5290"/>
<circle cx="307.50" cy="169.20" r="1.6" fill="#1d5290"/>
<text x="277.90" y="223.90" font-size="7.3" fill="#1d5290" textLength="54.1" lengthAdjust="spacingAndGlyphs" stroke="#1d5290" stroke-width="0.12">IC50 = 270.4 nM</text>
<text x="277.90" y="232.20" font-size="7.3" fill="#cc1236" textLength="49.8" lengthAdjust="spacingAndGlyphs" stroke="#cc1236" stroke-width="0.12">IC50 = 52.2 nM</text>
<line x1="401.90" y1="165.30" x2="401.90" y2="235.90" stroke="#111" stroke-width="1"/>
<line x1="401.40" y1="235.40" x2="512.90" y2="235.40" stroke="#111" stroke-width="1"/>
<line x1="398.90" y1="229.20" x2="401.90" y2="229.20" stroke="#111" stroke-width="0.9"/>
<text x="394.80" y="231.90" font-size="7.6" text-anchor="end" stroke="#111" stroke-width="0.12">0</text>
<line x1="398.90" y1="214.20" x2="401.90" y2="214.20" stroke="#111" stroke-width="0.9"/>
<text x="394.80" y="216.90" font-size="7.6" text-anchor="end" stroke="#111" stroke-width="0.12">25</text>
<line x1="398.90" y1="199.20" x2="401.90" y2="199.20" stroke="#111" stroke-width="0.9"/>
<text x="394.80" y="201.90" font-size="7.6" text-anchor="end" stroke="#111" stroke-width="0.12">50</text>
<line x1="398.90" y1="184.20" x2="401.90" y2="184.20" stroke="#111" stroke-width="0.9"/>
<text x="394.80" y="186.90" font-size="7.6" text-anchor="end" stroke="#111" stroke-width="0.12">75</text>
<line x1="398.90" y1="169.20" x2="401.90" y2="169.20" stroke="#111" stroke-width="0.9"/>
<text x="394.80" y="171.90" font-size="7.6" text-anchor="end" stroke="#111" stroke-width="0.12">100</text>
<line x1="401.90" y1="235.40" x2="401.90" y2="238.00" stroke="#111" stroke-width="0.9"/>
<text x="401.90" y="246.70" font-size="7.6" text-anchor="middle" stroke="#111" stroke-width="0.12">0</text>
<line x1="408.43" y1="235.40" x2="408.43" y2="236.70" stroke="#111" stroke-width="0.6"/>
<line x1="412.25" y1="235.40" x2="412.25" y2="236.70" stroke="#111" stroke-width="0.6"/>
<line x1="414.96" y1="235.40" x2="414.96" y2="236.70" stroke="#111" stroke-width="0.6"/>
<line x1="417.07" y1="235.40" x2="417.07" y2="236.70" stroke="#111" stroke-width="0.6"/>
<line x1="418.79" y1="235.40" x2="418.79" y2="236.70" stroke="#111" stroke-width="0.6"/>
<line x1="420.24" y1="235.40" x2="420.24" y2="236.70" stroke="#111" stroke-width="0.6"/>
<line x1="421.50" y1="235.40" x2="421.50" y2="236.70" stroke="#111" stroke-width="0.6"/>
<line x1="422.61" y1="235.40" x2="422.61" y2="236.70" stroke="#111" stroke-width="0.6"/>
<line x1="423.60" y1="235.40" x2="423.60" y2="238.00" stroke="#111" stroke-width="0.9"/>
<text x="423.60" y="246.70" font-size="7.6" text-anchor="middle" stroke="#111" stroke-width="0.12">1</text>
<line x1="430.13" y1="235.40" x2="430.13" y2="236.70" stroke="#111" stroke-width="0.6"/>
<line x1="433.95" y1="235.40" x2="433.95" y2="236.70" stroke="#111" stroke-width="0.6"/>
<line x1="436.66" y1="235.40" x2="436.66" y2="236.70" stroke="#111" stroke-width="0.6"/>
<line x1="438.77" y1="235.40" x2="438.77" y2="236.70" stroke="#111" stroke-width="0.6"/>
<line x1="440.49" y1="235.40" x2="440.49" y2="236.70" stroke="#111" stroke-width="0.6"/>
<line x1="441.94" y1="235.40" x2="441.94" y2="236.70" stroke="#111" stroke-width="0.6"/>
<line x1="443.20" y1="235.40" x2="443.20" y2="236.70" stroke="#111" stroke-width="0.6"/>
<line x1="444.31" y1="235.40" x2="444.31" y2="236.70" stroke="#111" stroke-width="0.6"/>
<line x1="445.30" y1="235.40" x2="445.30" y2="238.00" stroke="#111" stroke-width="0.9"/>
<text x="445.30" y="246.70" font-size="7.6" text-anchor="middle" stroke="#111" stroke-width="0.12">2</text>
<line x1="451.83" y1="235.40" x2="451.83" y2="236.70" stroke="#111" stroke-width="0.6"/>
<line x1="455.65" y1="235.40" x2="455.65" y2="236.70" stroke="#111" stroke-width="0.6"/>
<line x1="458.36" y1="235.40" x2="458.36" y2="236.70" stroke="#111" stroke-width="0.6"/>
<line x1="460.47" y1="235.40" x2="460.47" y2="236.70" stroke="#111" stroke-width="0.6"/>
<line x1="462.19" y1="235.40" x2="462.19" y2="236.70" stroke="#111" stroke-width="0.6"/>
<line x1="463.64" y1="235.40" x2="463.64" y2="236.70" stroke="#111" stroke-width="0.6"/>
<line x1="464.90" y1="235.40" x2="464.90" y2="236.70" stroke="#111" stroke-width="0.6"/>
<line x1="466.01" y1="235.40" x2="466.01" y2="236.70" stroke="#111" stroke-width="0.6"/>
<line x1="467.00" y1="235.40" x2="467.00" y2="238.00" stroke="#111" stroke-width="0.9"/>
<text x="467.00" y="246.70" font-size="7.6" text-anchor="middle" stroke="#111" stroke-width="0.12">3</text>
<line x1="473.53" y1="235.40" x2="473.53" y2="236.70" stroke="#111" stroke-width="0.6"/>
<line x1="477.35" y1="235.40" x2="477.35" y2="236.70" stroke="#111" stroke-width="0.6"/>
<line x1="480.06" y1="235.40" x2="480.06" y2="236.70" stroke="#111" stroke-width="0.6"/>
<line x1="482.17" y1="235.40" x2="482.17" y2="236.70" stroke="#111" stroke-width="0.6"/>
<line x1="483.89" y1="235.40" x2="483.89" y2="236.70" stroke="#111" stroke-width="0.6"/>
<line x1="485.34" y1="235.40" x2="485.34" y2="236.70" stroke="#111" stroke-width="0.6"/>
<line x1="486.60" y1="235.40" x2="486.60" y2="236.70" stroke="#111" stroke-width="0.6"/>
<line x1="487.71" y1="235.40" x2="487.71" y2="236.70" stroke="#111" stroke-width="0.6"/>
<line x1="488.70" y1="235.40" x2="488.70" y2="238.00" stroke="#111" stroke-width="0.9"/>
<text x="488.70" y="246.70" font-size="7.6" text-anchor="middle" stroke="#111" stroke-width="0.12">4</text>
<line x1="495.23" y1="235.40" x2="495.23" y2="236.70" stroke="#111" stroke-width="0.6"/>
<line x1="499.05" y1="235.40" x2="499.05" y2="236.70" stroke="#111" stroke-width="0.6"/>
<line x1="501.76" y1="235.40" x2="501.76" y2="236.70" stroke="#111" stroke-width="0.6"/>
<line x1="503.87" y1="235.40" x2="503.87" y2="236.70" stroke="#111" stroke-width="0.6"/>
<line x1="505.59" y1="235.40" x2="505.59" y2="236.70" stroke="#111" stroke-width="0.6"/>
<line x1="507.04" y1="235.40" x2="507.04" y2="236.70" stroke="#111" stroke-width="0.6"/>
<line x1="508.30" y1="235.40" x2="508.30" y2="236.70" stroke="#111" stroke-width="0.6"/>
<line x1="509.41" y1="235.40" x2="509.41" y2="236.70" stroke="#111" stroke-width="0.6"/>
<line x1="510.40" y1="235.40" x2="510.40" y2="238.00" stroke="#111" stroke-width="0.9"/>
<text x="510.40" y="246.70" font-size="7.6" text-anchor="middle" stroke="#111" stroke-width="0.12">5</text>
<text transform="translate(458.00 259.40) scale(0.7623 1)" x="0" y="0" text-anchor="middle" stroke="#111" stroke-width="0.28"><tspan font-size="8.4">ETP-46464 Log</tspan><tspan font-size="5.88" dy="2.10">10</tspan><tspan font-size="8.4" dy="-2.1">(nM)</tspan></text>
<text transform="translate(376.10 200.10) rotate(-90) scale(0.7517 1)" x="0" y="0" text-anchor="middle" stroke="#111" stroke-width="0.28"><tspan font-size="8.8">% Inhibition</tspan></text>
<text x="458.50" y="159.20" font-size="9.2" text-anchor="middle" stroke="#111" stroke-width="0.12">ATR/DNA-PK/mTOR i</text>
<path d="M406.24,226.16 L407.61,226.15 L408.99,226.14 L410.36,226.14 L411.74,226.12 L413.11,226.11 L414.49,226.10 L415.86,226.08 L417.23,226.06 L418.61,226.03 L419.98,226.01 L421.36,225.97 L422.73,225.94 L424.11,225.89 L425.48,225.84 L426.85,225.78 L428.23,225.71 L429.60,225.62 L430.98,225.53 L432.35,225.41 L433.73,225.28 L435.10,225.13 L436.48,224.95 L437.85,224.75 L439.22,224.51 L440.60,224.23 L441.97,223.91 L443.35,223.54 L444.72,223.11 L446.10,222.61 L447.47,222.05 L448.84,221.40 L450.22,220.65 L451.59,219.81 L452.97,218.86 L454.34,217.78 L455.72,216.58 L457.09,215.23 L458.46,213.75 L459.84,212.12 L461.21,210.34 L462.59,208.43 L463.96,206.38 L465.34,204.21 L466.71,201.95 L468.08,199.60 L469.46,197.21 L470.83,194.79 L472.21,192.37 L473.58,189.99 L474.96,187.68 L476.33,185.45 L477.71,183.33 L479.08,181.33 L480.45,179.47 L481.83,177.75 L483.20,176.18 L484.58,174.75 L485.95,173.47 L487.33,172.31 L488.70,171.29" stroke="#cc1236" stroke-width="1.2" fill="none"/>
<path d="M406.24,226.16 L407.61,226.15 L408.99,226.15 L410.36,226.14 L411.74,226.13 L413.11,226.12 L414.49,226.10 L415.86,226.09 L417.23,226.07 L418.61,226.05 L419.98,226.03 L421.36,226.00 L422.73,225.97 L424.11,225.93 L425.48,225.89 L426.85,225.84 L428.23,225.78 L429.60,225.72 L430.98,225.64 L432.35,225.56 L433.73,225.46 L435.10,225.34 L436.48,225.20 L437.85,225.05 L439.22,224.87 L440.60,224.67 L441.97,224.43 L443.35,224.16 L444.72,223.84 L446.10,223.49 L447.47,223.08 L448.84,222.61 L450.22,222.07 L451.59,221.47 L452.97,220.77 L454.34,219.99 L455.72,219.11 L457.09,218.12 L458.46,217.02 L459.84,215.79 L461.21,214.42 L462.59,212.92 L463.96,211.28 L465.34,209.49 L466.71,207.57 L468.08,205.52 L469.46,203.34 L470.83,201.06 L472.21,198.68 L473.58,196.24 L474.96,193.75 L476.33,191.25 L477.71,188.76 L479.08,186.30 L480.45,183.90 L481.83,181.59 L483.20,179.38 L484.58,177.28 L485.95,175.32 L487.33,173.49 L488.70,171.81" stroke="#1d5290" stroke-width="1.2" fill="none"/>
<rect x="404.74" y="223.50" width="3.00" height="3.00" fill="#cc1236"/>
<line x1="410.58" y1="216.84" x2="410.58" y2="232.44" stroke="#cc1236" stroke-width="0.8"/>
<line x1="409.38" y1="216.84" x2="411.78" y2="216.84" stroke="#cc1236" stroke-width="0.8"/>
<line x1="409.38" y1="232.44" x2="411.78" y2="232.44" stroke="#cc1236" stroke-width="0.8"/>
<rect x="409.08" y="223.14" width="3.00" height="3.00" fill="#cc1236"/>
<line x1="423.60" y1="228.00" x2="423.60" y2="235.20" stroke="#cc1236" stroke-width="0.8"/>
<line x1="422.40" y1="228.00" x2="424.80" y2="228.00" stroke="#cc1236" stroke-width="0.8"/>
<line x1="422.40" y1="235.20" x2="424.80" y2="235.20" stroke="#cc1236" stroke-width="0.8"/>
<rect x="422.10" y="230.10" width="3.00" height="3.00" fill="#cc1236"/>
<rect x="435.12" y="218.94" width="3.00" height="3.00" fill="#cc1236"/>
<rect x="448.14" y="222.90" width="3.00" height="3.00" fill="#cc1236"/>
<rect x="461.16" y="204.90" width="3.00" height="3.00" fill="#cc1236"/>
<rect x="474.18" y="186.30" width="3.00" height="3.00" fill="#cc1236"/>
<rect x="487.20" y="169.74" width="3.00" height="3.00" fill="#cc1236"/>
<circle cx="406.24" cy="225.00" r="1.6" fill="#1d5290"/>
<line x1="410.58" y1="219.18" x2="410.58" y2="227.58" stroke="#1d5290" stroke-width="0.8"/>
<line x1="409.38" y1="219.18" x2="411.78" y2="219.18" stroke="#1d5290" stroke-width="0.8"/>
<line x1="409.38" y1="227.58" x2="411.78" y2="227.58" stroke="#1d5290" stroke-width="0.8"/>
<circle cx="410.58" cy="223.38" r="1.6" fill="#1d5290"/>
<circle cx="423.60" cy="229.20" r="1.6" fill="#1d5290"/>
<line x1="436.62" y1="224.10" x2="436.62" y2="232.50" stroke="#1d5290" stroke-width="0.8"/>
<line x1="435.42" y1="224.10" x2="437.82" y2="224.10" stroke="#1d5290" stroke-width="0.8"/>
<line x1="435.42" y1="232.50" x2="437.82" y2="232.50" stroke="#1d5290" stroke-width="0.8"/>
<circle cx="436.62" cy="228.30" r="1.6" fill="#1d5290"/>
<line x1="449.64" y1="219.42" x2="449.64" y2="223.02" stroke="#1d5290" stroke-width="0.8"/>
<line x1="448.44" y1="219.42" x2="450.84" y2="219.42" stroke="#1d5290" stroke-width="0.8"/>
<line x1="448.44" y1="223.02" x2="450.84" y2="223.02" stroke="#1d5290" stroke-width="0.8"/>
<circle cx="449.64" cy="221.22" r="1.6" fill="#1d5290"/>
<line x1="462.66" y1="210.60" x2="462.66" y2="214.20" stroke="#1d5290" stroke-width="0.8"/>
<line x1="461.46" y1="210.60" x2="463.86" y2="210.60" stroke="#1d5290" stroke-width="0.8"/>
<line x1="461.46" y1="214.20" x2="463.86" y2="214.20" stroke="#1d5290" stroke-width="0.8"/>
<circle cx="462.66" cy="212.40" r="1.6" fill="#1d5290"/>
<circle cx="475.68" cy="193.20" r="1.6" fill="#1d5290"/>
<circle cx="488.70" cy="172.20" r="1.6" fill="#1d5290"/>
<text x="408.10" y="170.60" font-size="7.3" fill="#1d5290" textLength="45.9" lengthAdjust="spacingAndGlyphs" stroke="#1d5290" stroke-width="0.12">IC50 = 1.7 µM</text>
<text x="408.10" y="179.00" font-size="7.3" fill="#cc1236" textLength="45.9" lengthAdjust="spacingAndGlyphs" stroke="#cc1236" stroke-width="0.12">IC50 = 1.2 µM</text>
<line x1="211.00" y1="271.50" x2="219.70" y2="271.50" stroke="#1d5290" stroke-width="1.2"/>
<circle cx="215.40" cy="271.50" r="1.5" fill="#1d5290"/>
<text x="223.70" y="274.10" font-size="7.2" textLength="37.5" lengthAdjust="spacingAndGlyphs" stroke="#111" stroke-width="0.12">K562 + YFP</text>
<line x1="268.00" y1="271.50" x2="276.00" y2="271.50" stroke="#cc1236" stroke-width="1.2"/>
<rect x="270.50" y="270.00" width="3.00" height="3.00" fill="#cc1236"/>
<text x="280.00" y="274.10" font-size="7.2" textLength="68.4" lengthAdjust="spacingAndGlyphs" stroke="#111" stroke-width="0.12">K562 + HMGA2–YFP</text>
<text x="7.30" y="286.80" font-size="10" font-weight="bold" fill="#000" stroke="#000" stroke-width="0.35">E</text>
<text x="64.20" y="321.95" font-size="6.15" text-anchor="end" stroke="#111" stroke-width="0.05">KU-60019</text>
<rect x="66.80" y="316.80" width="17.20" height="5.90" fill="#c8102e"/>
<rect x="95.10" y="316.80" width="17.20" height="5.90" fill="#124b80"/>
<rect x="116.10" y="316.80" width="17.20" height="5.90" fill="#124b80"/>
<rect x="137.10" y="316.80" width="17.20" height="5.90" fill="#124b80"/>
<text x="64.20" y="330.42" font-size="6.15" text-anchor="end" stroke="#111" stroke-width="0.05">AZ-20</text>
<rect x="66.80" y="325.27" width="17.20" height="5.90" fill="#124b80"/>
<rect x="95.10" y="325.27" width="17.20" height="5.90" fill="#124b80"/>
<rect x="116.10" y="325.27" width="17.20" height="5.90" fill="#124b80"/>
<rect x="137.10" y="325.27" width="17.20" height="5.90" fill="#c8102e"/>
<text x="145.70" y="330.27" font-size="5.9" text-anchor="middle" fill="#fff" stroke="#fff" stroke-width="0.05">2.2</text>
<text x="64.20" y="338.89" font-size="6.15" text-anchor="end" stroke="#111" stroke-width="0.05">VE-821</text>
<rect x="66.80" y="333.74" width="17.20" height="5.90" fill="#c8102e"/>
<rect x="95.10" y="333.74" width="17.20" height="5.90" fill="#c8102e"/>
<text x="103.70" y="338.74" font-size="5.9" text-anchor="middle" fill="#fff" stroke="#fff" stroke-width="0.05">2.2</text>
<rect x="116.10" y="333.74" width="17.20" height="5.90" fill="#c8102e"/>
<text x="124.70" y="338.74" font-size="5.9" text-anchor="middle" fill="#fff" stroke="#fff" stroke-width="0.05">2.7</text>
<rect x="137.10" y="333.74" width="17.20" height="5.90" fill="#c8102e"/>
<text x="145.70" y="338.74" font-size="5.9" text-anchor="middle" fill="#fff" stroke="#fff" stroke-width="0.05">2.6</text>
<text x="64.20" y="347.36" font-size="6.15" text-anchor="end" stroke="#111" stroke-width="0.05">VE-822</text>
<rect x="66.80" y="342.21" width="17.20" height="5.90" fill="#c8102e"/>
<rect x="95.10" y="342.21" width="17.20" height="5.90" fill="#c8102e"/>
<text x="103.70" y="347.21" font-size="5.9" text-anchor="middle" fill="#fff" stroke="#fff" stroke-width="0.05">2.9</text>
<rect x="116.10" y="342.21" width="17.20" height="5.90" fill="#c8102e"/>
<text x="124.70" y="347.21" font-size="5.9" text-anchor="middle" fill="#fff" stroke="#fff" stroke-width="0.05">4.5</text>
<rect x="137.10" y="342.21" width="17.20" height="5.90" fill="#c8102e"/>
<text x="145.70" y="347.21" font-size="5.9" text-anchor="middle" fill="#fff" stroke="#fff" stroke-width="0.05">3.7</text>
<text x="64.20" y="355.83" font-size="6.15" text-anchor="end" stroke="#111" stroke-width="0.05">CHIR-124</text>
<rect x="66.80" y="350.68" width="17.20" height="5.90" fill="#c8102e"/>
<rect x="95.10" y="350.68" width="17.20" height="5.90" fill="#c8102e"/>
<text x="103.70" y="355.68" font-size="5.9" text-anchor="middle" fill="#fff" stroke="#fff" stroke-width="0.05">2.1</text>
<rect x="116.10" y="350.68" width="17.20" height="5.90" fill="#c8102e"/>
<text x="124.70" y="355.68" font-size="5.9" text-anchor="middle" fill="#fff" stroke="#fff" stroke-width="0.05">7.4</text>
<rect x="137.10" y="350.68" width="17.20" height="5.90" fill="#c8102e"/>
<text x="145.70" y="355.68" font-size="5.9" text-anchor="middle" fill="#fff" stroke="#fff" stroke-width="0.05">4.0</text>
<text x="64.20" y="364.30" font-size="6.15" text-anchor="end" stroke="#111" stroke-width="0.05">LY2603618</text>
<rect x="66.80" y="359.15" width="17.20" height="5.90" fill="#c8102e"/>
<rect x="95.10" y="359.15" width="17.20" height="5.90" fill="#c8102e"/>
<text x="103.70" y="364.15" font-size="5.9" text-anchor="middle" fill="#fff" stroke="#fff" stroke-width="0.05">3.3</text>
<rect x="116.10" y="359.15" width="17.20" height="5.90" fill="#c8102e"/>
<text x="124.70" y="364.15" font-size="5.9" text-anchor="middle" fill="#fff" stroke="#fff" stroke-width="0.05">5.2</text>
<rect x="137.10" y="359.15" width="17.20" height="5.90" fill="#c8102e"/>
<text x="145.70" y="364.15" font-size="5.9" text-anchor="middle" fill="#fff" stroke="#fff" stroke-width="0.05">3.8</text>
<text x="64.20" y="372.77" font-size="6.15" text-anchor="end" stroke="#111" stroke-width="0.05">MK-8776</text>
<rect x="66.80" y="367.62" width="17.20" height="5.90" fill="#c8102e"/>
<rect x="95.10" y="367.62" width="17.20" height="5.90" fill="#124b80"/>
<rect x="116.10" y="367.62" width="17.20" height="5.90" fill="#124b80"/>
<rect x="137.10" y="367.62" width="17.20" height="5.90" fill="#124b80"/>
<text x="64.20" y="381.24" font-size="6.15" text-anchor="end" stroke="#111" stroke-width="0.05">PF477736</text>
<rect x="66.80" y="376.09" width="17.20" height="5.90" fill="#c8102e"/>
<rect x="95.10" y="376.09" width="17.20" height="5.90" fill="#c8102e"/>
<text x="103.70" y="381.09" font-size="5.9" text-anchor="middle" fill="#fff" stroke="#fff" stroke-width="0.05">6.0</text>
<rect x="116.10" y="376.09" width="17.20" height="5.90" fill="#c8102e"/>
<text x="124.70" y="381.09" font-size="5.9" text-anchor="middle" fill="#fff" stroke="#fff" stroke-width="0.05">4.2</text>
<rect x="137.10" y="376.09" width="17.20" height="5.90" fill="#c8102e"/>
<text x="145.70" y="381.09" font-size="5.9" text-anchor="middle" fill="#fff" stroke="#fff" stroke-width="0.05">4.3</text>
<text x="64.20" y="389.71" font-size="6.15" text-anchor="end" stroke="#111" stroke-width="0.05">AZD7762</text>
<rect x="66.80" y="384.56" width="17.20" height="5.90" fill="#124b80"/>
<rect x="95.10" y="384.56" width="17.20" height="5.90" fill="#124b80"/>
<rect x="116.10" y="384.56" width="17.20" height="5.90" fill="#124b80"/>
<rect x="137.10" y="384.56" width="17.20" height="5.90" fill="#124b80"/>
<text x="64.20" y="398.18" font-size="6.15" text-anchor="end" stroke="#111" stroke-width="0.05">Wee1/CHK1 inhibitor</text>
<rect x="66.80" y="393.03" width="17.20" height="5.90" fill="#c8102e"/>
<rect x="95.10" y="393.03" width="17.20" height="5.90" fill="#c8102e"/>
<text x="103.70" y="398.03" font-size="5.9" text-anchor="middle" fill="#fff" stroke="#fff" stroke-width="0.05">3.9</text>
<rect x="116.10" y="393.03" width="17.20" height="5.90" fill="#c8102e"/>
<text x="124.70" y="398.03" font-size="5.9" text-anchor="middle" fill="#fff" stroke="#fff" stroke-width="0.05">2.6</text>
<rect x="137.10" y="393.03" width="17.20" height="5.90" fill="#c8102e"/>
<text x="145.70" y="398.03" font-size="5.9" text-anchor="middle" fill="#fff" stroke="#fff" stroke-width="0.05">3.2</text>
<text x="64.20" y="406.65" font-size="6.15" text-anchor="end" stroke="#111" stroke-width="0.05">MK-1775</text>
<rect x="66.80" y="401.50" width="17.20" height="5.90" fill="#c8102e"/>
<rect x="95.10" y="401.50" width="17.20" height="5.90" fill="#124b80"/>
<rect x="116.10" y="401.50" width="17.20" height="5.90" fill="#124b80"/>
<rect x="137.10" y="401.50" width="17.20" height="5.90" fill="#124b80"/>
<text x="64.20" y="415.12" font-size="6.15" text-anchor="end" stroke="#111" stroke-width="0.05">Wee1 inhibitor II</text>
<rect x="66.80" y="409.97" width="17.20" height="5.90" fill="#c8102e"/>
<rect x="95.10" y="409.97" width="17.20" height="5.90" fill="#124b80"/>
<rect x="116.10" y="409.97" width="17.20" height="5.90" fill="#124b80"/>
<rect x="137.10" y="409.97" width="17.20" height="5.90" fill="#124b80"/>
<text x="64.20" y="423.59" font-size="6.15" text-anchor="end" stroke="#111" stroke-width="0.05">CGK733</text>
<rect x="66.80" y="418.44" width="17.20" height="5.90" fill="#124b80"/>
<rect x="95.10" y="418.44" width="17.20" height="5.90" fill="#124b80"/>
<rect x="116.10" y="418.44" width="17.20" height="5.90" fill="#124b80"/>
<rect x="137.10" y="418.44" width="17.20" height="5.90" fill="#124b80"/>
<text x="64.20" y="432.06" font-size="6.15" text-anchor="end" stroke="#111" stroke-width="0.05">ETP-46464</text>
<rect x="66.80" y="426.91" width="17.20" height="5.90" fill="#124b80"/>
<rect x="95.10" y="426.91" width="17.20" height="5.90" fill="#124b80"/>
<rect x="116.10" y="426.91" width="17.20" height="5.90" fill="#124b80"/>
<rect x="137.10" y="426.91" width="17.20" height="5.90" fill="#124b80"/>
<text x="64.20" y="440.53" font-size="6.15" text-anchor="end" stroke="#111" stroke-width="0.05">NSC109555</text>
<rect x="66.80" y="435.38" width="17.20" height="5.90" fill="#124b80"/>
<rect x="95.10" y="435.38" width="17.20" height="5.90" fill="#124b80"/>
<rect x="116.10" y="435.38" width="17.20" height="5.90" fill="#124b80"/>
<rect x="137.10" y="435.38" width="17.20" height="5.90" fill="#124b80"/>
<text x="64.20" y="449.00" font-size="6.15" text-anchor="end" stroke="#111" stroke-width="0.05">Talazoparib</text>
<rect x="66.80" y="443.85" width="17.20" height="5.90" fill="#124b80"/>
<rect x="95.10" y="443.85" width="17.20" height="5.90" fill="#124b80"/>
<rect x="116.10" y="443.85" width="17.20" height="5.90" fill="#124b80"/>
<rect x="137.10" y="443.85" width="17.20" height="5.90" fill="#124b80"/>
<text x="64.20" y="457.47" font-size="6.15" text-anchor="end" stroke="#111" stroke-width="0.05">Olaparib</text>
<rect x="66.80" y="452.32" width="17.20" height="5.90" fill="#124b80"/>
<rect x="95.10" y="452.32" width="17.20" height="5.90" fill="#124b80"/>
<rect x="116.10" y="452.32" width="17.20" height="5.90" fill="#c8102e"/>
<text x="124.70" y="457.32" font-size="5.9" text-anchor="middle" fill="#fff" stroke="#fff" stroke-width="0.05">2.6</text>
<rect x="137.10" y="452.32" width="17.20" height="5.90" fill="#124b80"/>
<text x="64.20" y="465.94" font-size="6.15" text-anchor="end" stroke="#111" stroke-width="0.05">Rucaparib</text>
<rect x="66.80" y="460.79" width="17.20" height="5.90" fill="#124b80"/>
<rect x="116.10" y="460.79" width="17.20" height="5.90" fill="#124b80"/>
<rect x="137.10" y="460.79" width="17.20" height="5.90" fill="#124b80"/>
<line x1="157.40" y1="316.80" x2="157.40" y2="322.70" stroke="#111" stroke-width="0.9"/>
<text x="160.00" y="321.95" font-size="6.15" stroke="#111" stroke-width="0.05">ATM</text>
<line x1="157.40" y1="325.27" x2="157.40" y2="348.11" stroke="#111" stroke-width="0.9"/>
<text x="160.00" y="338.89" font-size="6.15" stroke="#111" stroke-width="0.05">ATR</text>
<line x1="157.40" y1="350.68" x2="157.40" y2="373.52" stroke="#111" stroke-width="0.9"/>
<text x="160.00" y="364.30" font-size="6.15" stroke="#111" stroke-width="0.05">CHK1</text>
<line x1="157.40" y1="376.09" x2="157.40" y2="390.46" stroke="#111" stroke-width="0.9"/>
<text x="160.00" y="385.47" font-size="6.15" stroke="#111" stroke-width="0.05">CHK1/2</text>
<line x1="157.40" y1="393.03" x2="157.40" y2="415.87" stroke="#111" stroke-width="0.9"/>
<text x="160.00" y="406.65" font-size="6.15" stroke="#111" stroke-width="0.05">Wee1</text>
<line x1="157.40" y1="418.44" x2="157.40" y2="424.34" stroke="#111" stroke-width="0.9"/>
<text x="160.00" y="423.59" font-size="6.15" stroke="#111" stroke-width="0.05">ATM/ATR</text>
<line x1="157.40" y1="426.91" x2="157.40" y2="432.81" stroke="#111" stroke-width="0.9"/>
<text x="160.00" y="432.06" font-size="6.15" stroke="#111" stroke-width="0.05">ATR/DNA-PK/mTOR</text>
<line x1="157.40" y1="435.38" x2="157.40" y2="441.28" stroke="#111" stroke-width="0.9"/>
<text x="160.00" y="440.53" font-size="6.15" stroke="#111" stroke-width="0.05">CHK2</text>
<line x1="157.40" y1="443.85" x2="157.40" y2="466.69" stroke="#111" stroke-width="0.9"/>
<text x="160.00" y="457.47" font-size="6.15" stroke="#111" stroke-width="0.05">PARP</text>
<text x="75.40" y="314.80" font-size="6.0" transform="rotate(-42 75.40 314.80)" stroke="#111" stroke-width="0.05">Primary AML</text>
<text x="103.40" y="314.80" font-size="6.0" transform="rotate(-42 103.40 314.80)" stroke="#111" stroke-width="0.05">OCI-AML5</text>
<text x="124.40" y="314.80" font-size="6.0" transform="rotate(-42 124.40 314.80)" stroke="#111" stroke-width="0.05">K562</text>
<text x="145.50" y="314.80" font-size="6.0" transform="rotate(-42 145.50 314.80)" stroke="#111" stroke-width="0.05">THP-1</text>
<text x="198.80" y="333.50" font-size="10" font-weight="bold" fill="#000" stroke="#000" stroke-width="0.35">G</text>
<line x1="240.90" y1="336.50" x2="240.90" y2="407.00" stroke="#111" stroke-width="1"/>
<line x1="240.40" y1="406.50" x2="350.90" y2="406.50" stroke="#111" stroke-width="1"/>
<line x1="237.90" y1="400.30" x2="240.90" y2="400.30" stroke="#111" stroke-width="0.9"/>
<text x="233.80" y="403.00" font-size="7.6" text-anchor="end" stroke="#111" stroke-width="0.12">0</text>
<line x1="237.90" y1="385.40" x2="240.90" y2="385.40" stroke="#111" stroke-width="0.9"/>
<text x="233.80" y="388.10" font-size="7.6" text-anchor="end" stroke="#111" stroke-width="0.12">25</text>
<line x1="237.90" y1="370.50" x2="240.90" y2="370.50" stroke="#111" stroke-width="0.9"/>
<text x="233.80" y="373.20" font-size="7.6" text-anchor="end" stroke="#111" stroke-width="0.12">50</text>
<line x1="237.90" y1="355.60" x2="240.90" y2="355.60" stroke="#111" stroke-width="0.9"/>
<text x="233.80" y="358.30" font-size="7.6" text-anchor="end" stroke="#111" stroke-width="0.12">75</text>
<line x1="237.90" y1="340.70" x2="240.90" y2="340.70" stroke="#111" stroke-width="0.9"/>
<text x="233.80" y="343.40" font-size="7.6" text-anchor="end" stroke="#111" stroke-width="0.12">100</text>
<line x1="240.90" y1="406.50" x2="240.90" y2="409.10" stroke="#111" stroke-width="0.9"/>
<text x="240.90" y="417.80" font-size="7.6" text-anchor="middle" stroke="#111" stroke-width="0.12">0</text>
<line x1="247.37" y1="406.50" x2="247.37" y2="407.80" stroke="#111" stroke-width="0.6"/>
<line x1="251.16" y1="406.50" x2="251.16" y2="407.80" stroke="#111" stroke-width="0.6"/>
<line x1="253.84" y1="406.50" x2="253.84" y2="407.80" stroke="#111" stroke-width="0.6"/>
<line x1="255.93" y1="406.50" x2="255.93" y2="407.80" stroke="#111" stroke-width="0.6"/>
<line x1="257.63" y1="406.50" x2="257.63" y2="407.80" stroke="#111" stroke-width="0.6"/>
<line x1="259.07" y1="406.50" x2="259.07" y2="407.80" stroke="#111" stroke-width="0.6"/>
<line x1="260.32" y1="406.50" x2="260.32" y2="407.80" stroke="#111" stroke-width="0.6"/>
<line x1="261.42" y1="406.50" x2="261.42" y2="407.80" stroke="#111" stroke-width="0.6"/>
<line x1="262.40" y1="406.50" x2="262.40" y2="409.10" stroke="#111" stroke-width="0.9"/>
<text x="262.40" y="417.80" font-size="7.6" text-anchor="middle" stroke="#111" stroke-width="0.12">1</text>
<line x1="268.87" y1="406.50" x2="268.87" y2="407.80" stroke="#111" stroke-width="0.6"/>
<line x1="272.66" y1="406.50" x2="272.66" y2="407.80" stroke="#111" stroke-width="0.6"/>
<line x1="275.34" y1="406.50" x2="275.34" y2="407.80" stroke="#111" stroke-width="0.6"/>
<line x1="277.43" y1="406.50" x2="277.43" y2="407.80" stroke="#111" stroke-width="0.6"/>
<line x1="279.13" y1="406.50" x2="279.13" y2="407.80" stroke="#111" stroke-width="0.6"/>
<line x1="280.57" y1="406.50" x2="280.57" y2="407.80" stroke="#111" stroke-width="0.6"/>
<line x1="281.82" y1="406.50" x2="281.82" y2="407.80" stroke="#111" stroke-width="0.6"/>
<line x1="282.92" y1="406.50" x2="282.92" y2="407.80" stroke="#111" stroke-width="0.6"/>
<line x1="283.90" y1="406.50" x2="283.90" y2="409.10" stroke="#111" stroke-width="0.9"/>
<text x="283.90" y="417.80" font-size="7.6" text-anchor="middle" stroke="#111" stroke-width="0.12">2</text>
<line x1="290.37" y1="406.50" x2="290.37" y2="407.80" stroke="#111" stroke-width="0.6"/>
<line x1="294.16" y1="406.50" x2="294.16" y2="407.80" stroke="#111" stroke-width="0.6"/>
<line x1="296.84" y1="406.50" x2="296.84" y2="407.80" stroke="#111" stroke-width="0.6"/>
<line x1="298.93" y1="406.50" x2="298.93" y2="407.80" stroke="#111" stroke-width="0.6"/>
<line x1="300.63" y1="406.50" x2="300.63" y2="407.80" stroke="#111" stroke-width="0.6"/>
<line x1="302.07" y1="406.50" x2="302.07" y2="407.80" stroke="#111" stroke-width="0.6"/>
<line x1="303.32" y1="406.50" x2="303.32" y2="407.80" stroke="#111" stroke-width="0.6"/>
<line x1="304.42" y1="406.50" x2="304.42" y2="407.80" stroke="#111" stroke-width="0.6"/>
<line x1="305.40" y1="406.50" x2="305.40" y2="409.10" stroke="#111" stroke-width="0.9"/>
<text x="305.40" y="417.80" font-size="7.6" text-anchor="middle" stroke="#111" stroke-width="0.12">3</text>
<line x1="311.87" y1="406.50" x2="311.87" y2="407.80" stroke="#111" stroke-width="0.6"/>
<line x1="315.66" y1="406.50" x2="315.66" y2="407.80" stroke="#111" stroke-width="0.6"/>
<line x1="318.34" y1="406.50" x2="318.34" y2="407.80" stroke="#111" stroke-width="0.6"/>
<line x1="320.43" y1="406.50" x2="320.43" y2="407.80" stroke="#111" stroke-width="0.6"/>
<line x1="322.13" y1="406.50" x2="322.13" y2="407.80" stroke="#111" stroke-width="0.6"/>
<line x1="323.57" y1="406.50" x2="323.57" y2="407.80" stroke="#111" stroke-width="0.6"/>
<line x1="324.82" y1="406.50" x2="324.82" y2="407.80" stroke="#111" stroke-width="0.6"/>
<line x1="325.92" y1="406.50" x2="325.92" y2="407.80" stroke="#111" stroke-width="0.6"/>
<line x1="326.90" y1="406.50" x2="326.90" y2="409.10" stroke="#111" stroke-width="0.9"/>
<text x="326.90" y="417.80" font-size="7.6" text-anchor="middle" stroke="#111" stroke-width="0.12">4</text>
<line x1="333.37" y1="406.50" x2="333.37" y2="407.80" stroke="#111" stroke-width="0.6"/>
<line x1="337.16" y1="406.50" x2="337.16" y2="407.80" stroke="#111" stroke-width="0.6"/>
<line x1="339.84" y1="406.50" x2="339.84" y2="407.80" stroke="#111" stroke-width="0.6"/>
<line x1="341.93" y1="406.50" x2="341.93" y2="407.80" stroke="#111" stroke-width="0.6"/>
<line x1="343.63" y1="406.50" x2="343.63" y2="407.80" stroke="#111" stroke-width="0.6"/>
<line x1="345.07" y1="406.50" x2="345.07" y2="407.80" stroke="#111" stroke-width="0.6"/>
<line x1="346.32" y1="406.50" x2="346.32" y2="407.80" stroke="#111" stroke-width="0.6"/>
<line x1="347.42" y1="406.50" x2="347.42" y2="407.80" stroke="#111" stroke-width="0.6"/>
<line x1="348.40" y1="406.50" x2="348.40" y2="409.10" stroke="#111" stroke-width="0.9"/>
<text x="348.40" y="417.80" font-size="7.6" text-anchor="middle" stroke="#111" stroke-width="0.12">5</text>
<text transform="translate(296.70 430.50) scale(0.7593 1)" x="0" y="0" text-anchor="middle" stroke="#111" stroke-width="0.28"><tspan font-size="8.4">Volasertib Log</tspan><tspan font-size="5.88" dy="2.10">10</tspan><tspan font-size="8.4" dy="-2.1">(nM)</tspan></text>
<text transform="translate(215.10 371.40) rotate(-90) scale(0.7517 1)" x="0" y="0" text-anchor="middle" stroke="#111" stroke-width="0.28"><tspan font-size="8.8">% Inhibition</tspan></text>
<path d="M245.20,380.40 L246.56,364.58 L247.92,351.60 L249.28,344.86 L250.65,342.16 L252.01,341.20 L253.37,340.87 L254.73,340.76 L256.09,340.72 L257.45,340.71 L258.82,340.70 L260.18,340.70 L261.54,340.70 L262.90,340.70 L264.26,340.70 L265.62,340.70 L266.99,340.70 L268.35,340.70 L269.71,340.70 L271.07,340.70 L272.43,340.70 L273.80,340.70 L275.16,340.70 L276.52,340.70 L277.88,340.70 L279.24,340.70 L280.60,340.70 L281.97,340.70 L283.33,340.70 L284.69,340.70 L286.05,340.70 L287.41,340.70 L288.77,340.70 L290.13,340.70 L291.50,340.70 L292.86,340.70 L294.22,340.70 L295.58,340.70 L296.94,340.70 L298.31,340.70 L299.67,340.70 L301.03,340.70 L302.39,340.70 L303.75,340.70 L305.11,340.70 L306.48,340.70 L307.84,340.70 L309.20,340.70 L310.56,340.70 L311.92,340.70 L313.28,340.70 L314.64,340.70 L316.01,340.70 L317.37,340.70 L318.73,340.70 L320.09,340.70 L321.45,340.70 L322.81,340.70 L324.18,340.70 L325.54,340.70 L326.90,340.70" stroke="#cc1236" stroke-width="1.2" fill="none"/>
<path d="M245.20,398.41 L246.56,397.30 L247.92,395.60 L249.28,393.04 L250.65,389.38 L252.01,384.42 L253.37,378.24 L254.73,371.25 L256.09,364.18 L257.45,357.78 L258.82,352.56 L260.18,348.63 L261.54,345.86 L262.90,344.00 L264.26,342.78 L265.62,342.01 L266.99,341.51 L268.35,341.21 L269.71,341.01 L271.07,340.89 L272.43,340.82 L273.80,340.77 L275.16,340.75 L276.52,340.73 L277.88,340.72 L279.24,340.71 L280.60,340.71 L281.97,340.70 L283.33,340.70 L284.69,340.70 L286.05,340.70 L287.41,340.70 L288.77,340.70 L290.13,340.70 L291.50,340.70 L292.86,340.70 L294.22,340.70 L295.58,340.70 L296.94,340.70 L298.31,340.70 L299.67,340.70 L301.03,340.70 L302.39,340.70 L303.75,340.70 L305.11,340.70 L306.48,340.70 L307.84,340.70 L309.20,340.70 L310.56,340.70 L311.92,340.70 L313.28,340.70 L314.64,340.70 L316.01,340.70 L317.37,340.70 L318.73,340.70 L320.09,340.70 L321.45,340.70 L322.81,340.70 L324.18,340.70 L325.54,340.70 L326.90,340.70" stroke="#1d5290" stroke-width="1.2" fill="none"/>
<rect x="243.70" y="379.13" width="3.00" height="3.00" fill="#cc1236"/>
<rect x="248.00" y="342.78" width="3.00" height="3.00" fill="#cc1236"/>
<rect x="260.90" y="339.80" width="3.00" height="3.00" fill="#cc1236"/>
<rect x="273.80" y="339.80" width="3.00" height="3.00" fill="#cc1236"/>
<rect x="286.70" y="340.39" width="3.00" height="3.00" fill="#cc1236"/>
<rect x="299.60" y="339.80" width="3.00" height="3.00" fill="#cc1236"/>
<rect x="312.50" y="339.80" width="3.00" height="3.00" fill="#cc1236"/>
<rect x="325.40" y="339.80" width="3.00" height="3.00" fill="#cc1236"/>
<circle cx="245.20" cy="397.32" r="1.6" fill="#1d5290"/>
<circle cx="249.50" cy="392.55" r="1.6" fill="#1d5290"/>
<circle cx="262.40" cy="344.28" r="1.6" fill="#1d5290"/>
<circle cx="275.30" cy="341.30" r="1.6" fill="#1d5290"/>
<circle cx="288.20" cy="341.30" r="1.6" fill="#1d5290"/>
<circle cx="301.10" cy="341.30" r="1.6" fill="#1d5290"/>
<circle cx="314.00" cy="340.70" r="1.6" fill="#1d5290"/>
<circle cx="326.90" cy="340.70" r="1.6" fill="#1d5290"/>
<text x="306.90" y="393.50" font-size="7.3" fill="#1d5290" textLength="46" lengthAdjust="spacingAndGlyphs" stroke="#1d5290" stroke-width="0.12">IC50 = 4.5 nM</text>
<text x="306.90" y="402.60" font-size="7.3" fill="#cc1236" textLength="46" lengthAdjust="spacingAndGlyphs" stroke="#cc1236" stroke-width="0.12">IC50 = 1.5 nM</text>
<line x1="402.20" y1="336.50" x2="402.20" y2="407.00" stroke="#111" stroke-width="1"/>
<line x1="401.70" y1="406.50" x2="512.20" y2="406.50" stroke="#111" stroke-width="1"/>
<line x1="399.20" y1="400.30" x2="402.20" y2="400.30" stroke="#111" stroke-width="0.9"/>
<text x="395.10" y="403.00" font-size="7.6" text-anchor="end" stroke="#111" stroke-width="0.12">0</text>
<line x1="399.20" y1="385.40" x2="402.20" y2="385.40" stroke="#111" stroke-width="0.9"/>
<text x="395.10" y="388.10" font-size="7.6" text-anchor="end" stroke="#111" stroke-width="0.12">25</text>
<line x1="399.20" y1="370.50" x2="402.20" y2="370.50" stroke="#111" stroke-width="0.9"/>
<text x="395.10" y="373.20" font-size="7.6" text-anchor="end" stroke="#111" stroke-width="0.12">50</text>
<line x1="399.20" y1="355.60" x2="402.20" y2="355.60" stroke="#111" stroke-width="0.9"/>
<text x="395.10" y="358.30" font-size="7.6" text-anchor="end" stroke="#111" stroke-width="0.12">75</text>
<line x1="399.20" y1="340.70" x2="402.20" y2="340.70" stroke="#111" stroke-width="0.9"/>
<text x="395.10" y="343.40" font-size="7.6" text-anchor="end" stroke="#111" stroke-width="0.12">100</text>
<line x1="402.20" y1="406.50" x2="402.20" y2="409.10" stroke="#111" stroke-width="0.9"/>
<text x="402.20" y="417.80" font-size="7.6" text-anchor="middle" stroke="#111" stroke-width="0.12">0</text>
<line x1="408.67" y1="406.50" x2="408.67" y2="407.80" stroke="#111" stroke-width="0.6"/>
<line x1="412.46" y1="406.50" x2="412.46" y2="407.80" stroke="#111" stroke-width="0.6"/>
<line x1="415.14" y1="406.50" x2="415.14" y2="407.80" stroke="#111" stroke-width="0.6"/>
<line x1="417.23" y1="406.50" x2="417.23" y2="407.80" stroke="#111" stroke-width="0.6"/>
<line x1="418.93" y1="406.50" x2="418.93" y2="407.80" stroke="#111" stroke-width="0.6"/>
<line x1="420.37" y1="406.50" x2="420.37" y2="407.80" stroke="#111" stroke-width="0.6"/>
<line x1="421.62" y1="406.50" x2="421.62" y2="407.80" stroke="#111" stroke-width="0.6"/>
<line x1="422.72" y1="406.50" x2="422.72" y2="407.80" stroke="#111" stroke-width="0.6"/>
<line x1="423.70" y1="406.50" x2="423.70" y2="409.10" stroke="#111" stroke-width="0.9"/>
<text x="423.70" y="417.80" font-size="7.6" text-anchor="middle" stroke="#111" stroke-width="0.12">1</text>
<line x1="430.17" y1="406.50" x2="430.17" y2="407.80" stroke="#111" stroke-width="0.6"/>
<line x1="433.96" y1="406.50" x2="433.96" y2="407.80" stroke="#111" stroke-width="0.6"/>
<line x1="436.64" y1="406.50" x2="436.64" y2="407.80" stroke="#111" stroke-width="0.6"/>
<line x1="438.73" y1="406.50" x2="438.73" y2="407.80" stroke="#111" stroke-width="0.6"/>
<line x1="440.43" y1="406.50" x2="440.43" y2="407.80" stroke="#111" stroke-width="0.6"/>
<line x1="441.87" y1="406.50" x2="441.87" y2="407.80" stroke="#111" stroke-width="0.6"/>
<line x1="443.12" y1="406.50" x2="443.12" y2="407.80" stroke="#111" stroke-width="0.6"/>
<line x1="444.22" y1="406.50" x2="444.22" y2="407.80" stroke="#111" stroke-width="0.6"/>
<line x1="445.20" y1="406.50" x2="445.20" y2="409.10" stroke="#111" stroke-width="0.9"/>
<text x="445.20" y="417.80" font-size="7.6" text-anchor="middle" stroke="#111" stroke-width="0.12">2</text>
<line x1="451.67" y1="406.50" x2="451.67" y2="407.80" stroke="#111" stroke-width="0.6"/>
<line x1="455.46" y1="406.50" x2="455.46" y2="407.80" stroke="#111" stroke-width="0.6"/>
<line x1="458.14" y1="406.50" x2="458.14" y2="407.80" stroke="#111" stroke-width="0.6"/>
<line x1="460.23" y1="406.50" x2="460.23" y2="407.80" stroke="#111" stroke-width="0.6"/>
<line x1="461.93" y1="406.50" x2="461.93" y2="407.80" stroke="#111" stroke-width="0.6"/>
<line x1="463.37" y1="406.50" x2="463.37" y2="407.80" stroke="#111" stroke-width="0.6"/>
<line x1="464.62" y1="406.50" x2="464.62" y2="407.80" stroke="#111" stroke-width="0.6"/>
<line x1="465.72" y1="406.50" x2="465.72" y2="407.80" stroke="#111" stroke-width="0.6"/>
<line x1="466.70" y1="406.50" x2="466.70" y2="409.10" stroke="#111" stroke-width="0.9"/>
<text x="466.70" y="417.80" font-size="7.6" text-anchor="middle" stroke="#111" stroke-width="0.12">3</text>
<line x1="473.17" y1="406.50" x2="473.17" y2="407.80" stroke="#111" stroke-width="0.6"/>
<line x1="476.96" y1="406.50" x2="476.96" y2="407.80" stroke="#111" stroke-width="0.6"/>
<line x1="479.64" y1="406.50" x2="479.64" y2="407.80" stroke="#111" stroke-width="0.6"/>
<line x1="481.73" y1="406.50" x2="481.73" y2="407.80" stroke="#111" stroke-width="0.6"/>
<line x1="483.43" y1="406.50" x2="483.43" y2="407.80" stroke="#111" stroke-width="0.6"/>
<line x1="484.87" y1="406.50" x2="484.87" y2="407.80" stroke="#111" stroke-width="0.6"/>
<line x1="486.12" y1="406.50" x2="486.12" y2="407.80" stroke="#111" stroke-width="0.6"/>
<line x1="487.22" y1="406.50" x2="487.22" y2="407.80" stroke="#111" stroke-width="0.6"/>
<line x1="488.20" y1="406.50" x2="488.20" y2="409.10" stroke="#111" stroke-width="0.9"/>
<text x="488.20" y="417.80" font-size="7.6" text-anchor="middle" stroke="#111" stroke-width="0.12">4</text>
<line x1="494.67" y1="406.50" x2="494.67" y2="407.80" stroke="#111" stroke-width="0.6"/>
<line x1="498.46" y1="406.50" x2="498.46" y2="407.80" stroke="#111" stroke-width="0.6"/>
<line x1="501.14" y1="406.50" x2="501.14" y2="407.80" stroke="#111" stroke-width="0.6"/>
<line x1="503.23" y1="406.50" x2="503.23" y2="407.80" stroke="#111" stroke-width="0.6"/>
<line x1="504.93" y1="406.50" x2="504.93" y2="407.80" stroke="#111" stroke-width="0.6"/>
<line x1="506.37" y1="406.50" x2="506.37" y2="407.80" stroke="#111" stroke-width="0.6"/>
<line x1="507.62" y1="406.50" x2="507.62" y2="407.80" stroke="#111" stroke-width="0.6"/>
<line x1="508.72" y1="406.50" x2="508.72" y2="407.80" stroke="#111" stroke-width="0.6"/>
<line x1="509.70" y1="406.50" x2="509.70" y2="409.10" stroke="#111" stroke-width="0.9"/>
<text x="509.70" y="417.80" font-size="7.6" text-anchor="middle" stroke="#111" stroke-width="0.12">5</text>
<text transform="translate(457.60 430.50) scale(0.7409 1)" x="0" y="0" text-anchor="middle" stroke="#111" stroke-width="0.28"><tspan font-size="8.4">GSK46136 Log</tspan><tspan font-size="5.88" dy="2.10">10</tspan><tspan font-size="8.4" dy="-2.1">(nM)</tspan></text>
<text transform="translate(376.40 371.40) rotate(-90) scale(0.7517 1)" x="0" y="0" text-anchor="middle" stroke="#111" stroke-width="0.28"><tspan font-size="8.8">% Inhibition</tspan></text>
<path d="M406.50,385.47 L407.86,373.92 L409.22,361.21 L410.58,351.40 L411.95,345.68 L413.31,342.88 L414.67,341.63 L416.03,341.09 L417.39,340.86 L418.75,340.77 L420.12,340.73 L421.48,340.71 L422.84,340.70 L424.20,340.70 L425.56,340.70 L426.93,340.70 L428.29,340.70 L429.65,340.70 L431.01,340.70 L432.37,340.70 L433.73,340.70 L435.09,340.70 L436.46,340.70 L437.82,340.70 L439.18,340.70 L440.54,340.70 L441.90,340.70 L443.26,340.70 L444.63,340.70 L445.99,340.70 L447.35,340.70 L448.71,340.70 L450.07,340.70 L451.44,340.70 L452.80,340.70 L454.16,340.70 L455.52,340.70 L456.88,340.70 L458.24,340.70 L459.61,340.70 L460.97,340.70 L462.33,340.70 L463.69,340.70 L465.05,340.70 L466.41,340.70 L467.77,340.70 L469.14,340.70 L470.50,340.70 L471.86,340.70 L473.22,340.70 L474.58,340.70 L475.94,340.70 L477.31,340.70 L478.67,340.70 L480.03,340.70 L481.39,340.70 L482.75,340.70 L484.12,340.70 L485.48,340.70 L486.84,340.70 L488.20,340.70" stroke="#cc1236" stroke-width="1.2" fill="none"/>
<path d="M406.50,390.41 L407.86,390.41 L409.22,390.41 L410.58,390.41 L411.95,390.41 L413.31,390.40 L414.67,390.40 L416.03,390.37 L417.39,390.24 L418.75,389.70 L420.12,387.50 L421.48,379.93 L422.84,363.84 L424.20,349.07 L425.56,342.94 L426.93,341.24 L428.29,340.83 L429.65,340.73 L431.01,340.71 L432.37,340.70 L433.73,340.70 L435.09,340.70 L436.46,340.70 L437.82,340.70 L439.18,340.70 L440.54,340.70 L441.90,340.70 L443.26,340.70 L444.63,340.70 L445.99,340.70 L447.35,340.70 L448.71,340.70 L450.07,340.70 L451.44,340.70 L452.80,340.70 L454.16,340.70 L455.52,340.70 L456.88,340.70 L458.24,340.70 L459.61,340.70 L460.97,340.70 L462.33,340.70 L463.69,340.70 L465.05,340.70 L466.41,340.70 L467.77,340.70 L469.14,340.70 L470.50,340.70 L471.86,340.70 L473.22,340.70 L474.58,340.70 L475.94,340.70 L477.31,340.70 L478.67,340.70 L480.03,340.70 L481.39,340.70 L482.75,340.70 L484.12,340.70 L485.48,340.70 L486.84,340.70 L488.20,340.70" stroke="#1d5290" stroke-width="1.2" fill="none"/>
<line x1="406.50" y1="384.21" x2="406.50" y2="397.32" stroke="#cc1236" stroke-width="0.8"/>
<line x1="405.30" y1="384.21" x2="407.70" y2="384.21" stroke="#cc1236" stroke-width="0.8"/>
<line x1="405.30" y1="397.32" x2="407.70" y2="397.32" stroke="#cc1236" stroke-width="0.8"/>
<rect x="405.00" y="389.26" width="3.00" height="3.00" fill="#cc1236"/>
<line x1="410.80" y1="344.28" x2="410.80" y2="360.96" stroke="#cc1236" stroke-width="0.8"/>
<line x1="409.60" y1="344.28" x2="412.00" y2="344.28" stroke="#cc1236" stroke-width="0.8"/>
<line x1="409.60" y1="360.96" x2="412.00" y2="360.96" stroke="#cc1236" stroke-width="0.8"/>
<rect x="409.30" y="351.12" width="3.00" height="3.00" fill="#cc1236"/>
<rect x="422.20" y="339.80" width="3.00" height="3.00" fill="#cc1236"/>
<rect x="435.10" y="339.80" width="3.00" height="3.00" fill="#cc1236"/>
<rect x="448.00" y="339.80" width="3.00" height="3.00" fill="#cc1236"/>
<rect x="460.90" y="339.80" width="3.00" height="3.00" fill="#cc1236"/>
<rect x="473.80" y="339.80" width="3.00" height="3.00" fill="#cc1236"/>
<rect x="486.70" y="339.80" width="3.00" height="3.00" fill="#cc1236"/>
<line x1="406.50" y1="385.40" x2="406.50" y2="390.17" stroke="#1d5290" stroke-width="0.8"/>
<line x1="405.30" y1="385.40" x2="407.70" y2="385.40" stroke="#1d5290" stroke-width="0.8"/>
<line x1="405.30" y1="390.17" x2="407.70" y2="390.17" stroke="#1d5290" stroke-width="0.8"/>
<circle cx="406.50" cy="387.78" r="1.6" fill="#1d5290"/>
<circle cx="410.80" cy="393.15" r="1.6" fill="#1d5290"/>
<line x1="423.70" y1="352.02" x2="423.70" y2="361.56" stroke="#1d5290" stroke-width="0.8"/>
<line x1="422.50" y1="352.02" x2="424.90" y2="352.02" stroke="#1d5290" stroke-width="0.8"/>
<line x1="422.50" y1="361.56" x2="424.90" y2="361.56" stroke="#1d5290" stroke-width="0.8"/>
<circle cx="423.70" cy="356.79" r="1.6" fill="#1d5290"/>
<circle cx="436.60" cy="340.70" r="1.6" fill="#1d5290"/>
<circle cx="449.50" cy="340.70" r="1.6" fill="#1d5290"/>
<circle cx="462.40" cy="340.70" r="1.6" fill="#1d5290"/>
<circle cx="475.30" cy="340.70" r="1.6" fill="#1d5290"/>
<circle cx="488.20" cy="340.70" r="1.6" fill="#1d5290"/>
<text x="467.90" y="393.50" font-size="7.3" fill="#1d5290" textLength="45.4" lengthAdjust="spacingAndGlyphs" stroke="#1d5290" stroke-width="0.12">IC50 = 9.0 nM</text>
<text x="467.90" y="402.80" font-size="7.3" fill="#cc1236" textLength="45.4" lengthAdjust="spacingAndGlyphs" stroke="#cc1236" stroke-width="0.12">IC50 = 1.9 nM</text>
<line x1="297.40" y1="442.50" x2="305.70" y2="442.50" stroke="#1d5290" stroke-width="1.2"/>
<circle cx="301.50" cy="442.50" r="1.5" fill="#1d5290"/>
<text x="309.70" y="445.10" font-size="7.2" textLength="38.5" lengthAdjust="spacingAndGlyphs" stroke="#111" stroke-width="0.12">K562 + YFP</text>
<line x1="354.30" y1="442.50" x2="362.30" y2="442.50" stroke="#cc1236" stroke-width="1.2"/>
<rect x="356.80" y="441.00" width="3.00" height="3.00" fill="#cc1236"/>
<text x="367.00" y="445.10" font-size="7.2" textLength="66.5" lengthAdjust="spacingAndGlyphs" stroke="#111" stroke-width="0.12">K562 + HMGA2–YFP</text>
<text x="177.00" y="498.70" font-size="10" font-weight="bold" fill="#000" stroke="#000" stroke-width="0.35">H</text>
<line x1="208.50" y1="520.20" x2="208.50" y2="590.60" stroke="#111" stroke-width="1"/>
<line x1="208.00" y1="590.10" x2="319.50" y2="590.10" stroke="#111" stroke-width="1"/>
<line x1="205.50" y1="583.80" x2="208.50" y2="583.80" stroke="#111" stroke-width="0.9"/>
<text x="201.40" y="586.50" font-size="7.6" text-anchor="end" stroke="#111" stroke-width="0.12">0</text>
<line x1="205.50" y1="568.90" x2="208.50" y2="568.90" stroke="#111" stroke-width="0.9"/>
<text x="201.40" y="571.60" font-size="7.6" text-anchor="end" stroke="#111" stroke-width="0.12">25</text>
<line x1="205.50" y1="554.00" x2="208.50" y2="554.00" stroke="#111" stroke-width="0.9"/>
<text x="201.40" y="556.70" font-size="7.6" text-anchor="end" stroke="#111" stroke-width="0.12">50</text>
<line x1="205.50" y1="539.10" x2="208.50" y2="539.10" stroke="#111" stroke-width="0.9"/>
<text x="201.40" y="541.80" font-size="7.6" text-anchor="end" stroke="#111" stroke-width="0.12">75</text>
<line x1="205.50" y1="524.20" x2="208.50" y2="524.20" stroke="#111" stroke-width="0.9"/>
<text x="201.40" y="526.90" font-size="7.6" text-anchor="end" stroke="#111" stroke-width="0.12">100</text>
<line x1="208.50" y1="590.10" x2="208.50" y2="592.70" stroke="#111" stroke-width="0.9"/>
<text x="208.50" y="601.40" font-size="7.6" text-anchor="middle" stroke="#111" stroke-width="0.12">0</text>
<line x1="215.03" y1="590.10" x2="215.03" y2="591.40" stroke="#111" stroke-width="0.6"/>
<line x1="218.85" y1="590.10" x2="218.85" y2="591.40" stroke="#111" stroke-width="0.6"/>
<line x1="221.56" y1="590.10" x2="221.56" y2="591.40" stroke="#111" stroke-width="0.6"/>
<line x1="223.67" y1="590.10" x2="223.67" y2="591.40" stroke="#111" stroke-width="0.6"/>
<line x1="225.39" y1="590.10" x2="225.39" y2="591.40" stroke="#111" stroke-width="0.6"/>
<line x1="226.84" y1="590.10" x2="226.84" y2="591.40" stroke="#111" stroke-width="0.6"/>
<line x1="228.10" y1="590.10" x2="228.10" y2="591.40" stroke="#111" stroke-width="0.6"/>
<line x1="229.21" y1="590.10" x2="229.21" y2="591.40" stroke="#111" stroke-width="0.6"/>
<line x1="230.20" y1="590.10" x2="230.20" y2="592.70" stroke="#111" stroke-width="0.9"/>
<text x="230.20" y="601.40" font-size="7.6" text-anchor="middle" stroke="#111" stroke-width="0.12">1</text>
<line x1="236.73" y1="590.10" x2="236.73" y2="591.40" stroke="#111" stroke-width="0.6"/>
<line x1="240.55" y1="590.10" x2="240.55" y2="591.40" stroke="#111" stroke-width="0.6"/>
<line x1="243.26" y1="590.10" x2="243.26" y2="591.40" stroke="#111" stroke-width="0.6"/>
<line x1="245.37" y1="590.10" x2="245.37" y2="591.40" stroke="#111" stroke-width="0.6"/>
<line x1="247.09" y1="590.10" x2="247.09" y2="591.40" stroke="#111" stroke-width="0.6"/>
<line x1="248.54" y1="590.10" x2="248.54" y2="591.40" stroke="#111" stroke-width="0.6"/>
<line x1="249.80" y1="590.10" x2="249.80" y2="591.40" stroke="#111" stroke-width="0.6"/>
<line x1="250.91" y1="590.10" x2="250.91" y2="591.40" stroke="#111" stroke-width="0.6"/>
<line x1="251.90" y1="590.10" x2="251.90" y2="592.70" stroke="#111" stroke-width="0.9"/>
<text x="251.90" y="601.40" font-size="7.6" text-anchor="middle" stroke="#111" stroke-width="0.12">2</text>
<line x1="258.43" y1="590.10" x2="258.43" y2="591.40" stroke="#111" stroke-width="0.6"/>
<line x1="262.25" y1="590.10" x2="262.25" y2="591.40" stroke="#111" stroke-width="0.6"/>
<line x1="264.96" y1="590.10" x2="264.96" y2="591.40" stroke="#111" stroke-width="0.6"/>
<line x1="267.07" y1="590.10" x2="267.07" y2="591.40" stroke="#111" stroke-width="0.6"/>
<line x1="268.79" y1="590.10" x2="268.79" y2="591.40" stroke="#111" stroke-width="0.6"/>
<line x1="270.24" y1="590.10" x2="270.24" y2="591.40" stroke="#111" stroke-width="0.6"/>
<line x1="271.50" y1="590.10" x2="271.50" y2="591.40" stroke="#111" stroke-width="0.6"/>
<line x1="272.61" y1="590.10" x2="272.61" y2="591.40" stroke="#111" stroke-width="0.6"/>
<line x1="273.60" y1="590.10" x2="273.60" y2="592.70" stroke="#111" stroke-width="0.9"/>
<text x="273.60" y="601.40" font-size="7.6" text-anchor="middle" stroke="#111" stroke-width="0.12">3</text>
<line x1="280.13" y1="590.10" x2="280.13" y2="591.40" stroke="#111" stroke-width="0.6"/>
<line x1="283.95" y1="590.10" x2="283.95" y2="591.40" stroke="#111" stroke-width="0.6"/>
<line x1="286.66" y1="590.10" x2="286.66" y2="591.40" stroke="#111" stroke-width="0.6"/>
<line x1="288.77" y1="590.10" x2="288.77" y2="591.40" stroke="#111" stroke-width="0.6"/>
<line x1="290.49" y1="590.10" x2="290.49" y2="591.40" stroke="#111" stroke-width="0.6"/>
<line x1="291.94" y1="590.10" x2="291.94" y2="591.40" stroke="#111" stroke-width="0.6"/>
<line x1="293.20" y1="590.10" x2="293.20" y2="591.40" stroke="#111" stroke-width="0.6"/>
<line x1="294.31" y1="590.10" x2="294.31" y2="591.40" stroke="#111" stroke-width="0.6"/>
<line x1="295.30" y1="590.10" x2="295.30" y2="592.70" stroke="#111" stroke-width="0.9"/>
<text x="295.30" y="601.40" font-size="7.6" text-anchor="middle" stroke="#111" stroke-width="0.12">4</text>
<line x1="301.83" y1="590.10" x2="301.83" y2="591.40" stroke="#111" stroke-width="0.6"/>
<line x1="305.65" y1="590.10" x2="305.65" y2="591.40" stroke="#111" stroke-width="0.6"/>
<line x1="308.36" y1="590.10" x2="308.36" y2="591.40" stroke="#111" stroke-width="0.6"/>
<line x1="310.47" y1="590.10" x2="310.47" y2="591.40" stroke="#111" stroke-width="0.6"/>
<line x1="312.19" y1="590.10" x2="312.19" y2="591.40" stroke="#111" stroke-width="0.6"/>
<line x1="313.64" y1="590.10" x2="313.64" y2="591.40" stroke="#111" stroke-width="0.6"/>
<line x1="314.90" y1="590.10" x2="314.90" y2="591.40" stroke="#111" stroke-width="0.6"/>
<line x1="316.01" y1="590.10" x2="316.01" y2="591.40" stroke="#111" stroke-width="0.6"/>
<line x1="317.00" y1="590.10" x2="317.00" y2="592.70" stroke="#111" stroke-width="0.9"/>
<text x="317.00" y="601.40" font-size="7.6" text-anchor="middle" stroke="#111" stroke-width="0.12">5</text>
<text transform="translate(265.40 614.10) scale(0.7528 1)" x="0" y="0" text-anchor="middle" stroke="#111" stroke-width="0.28"><tspan font-size="8.4">Volasertib Log</tspan><tspan font-size="5.88" dy="2.10">10</tspan><tspan font-size="8.4" dy="-2.1">(nM)</tspan></text>
<text transform="translate(182.70 554.95) rotate(-90) scale(0.7517 1)" x="0" y="0" text-anchor="middle" stroke="#111" stroke-width="0.28"><tspan font-size="8.8">% Inhibition</tspan></text>
<path d="M212.84,571.72 L214.21,566.95 L215.59,561.92 L216.96,556.86 L218.34,551.96 L219.71,547.40 L221.09,543.33 L222.46,539.82 L223.83,536.86 L225.21,534.45 L226.58,532.51 L227.96,530.98 L229.33,529.78 L230.71,528.86 L232.08,528.16 L233.45,527.62 L234.83,527.22 L236.20,526.91 L237.58,526.68 L238.95,526.51 L240.33,526.37 L241.70,526.28 L243.08,526.20 L244.45,526.15 L245.82,526.11 L247.20,526.08 L248.57,526.06 L249.95,526.04 L251.32,526.03 L252.70,526.02 L254.07,526.01 L255.44,526.00 L256.82,526.00 L258.19,526.00 L259.57,525.99 L260.94,525.99 L262.32,525.99 L263.69,525.99 L265.06,525.99 L266.44,525.99 L267.81,525.99 L269.19,525.99 L270.56,525.99 L271.94,525.99 L273.31,525.99 L274.69,525.99 L276.06,525.99 L277.43,525.99 L278.81,525.99 L280.18,525.99 L281.56,525.99 L282.93,525.99 L284.31,525.99 L285.68,525.99 L287.05,525.99 L288.43,525.99 L289.80,525.99 L291.18,525.99 L292.55,525.99 L293.93,525.99 L295.30,525.99" stroke="#cc1236" stroke-width="1.2" fill="none"/>
<path d="M212.84,578.34 L214.21,578.30 L215.59,578.23 L216.96,578.14 L218.34,578.00 L219.71,577.80 L221.09,577.51 L222.46,577.10 L223.83,576.51 L225.21,575.66 L226.58,574.48 L227.96,572.86 L229.33,570.67 L230.71,567.82 L232.08,564.26 L233.45,560.05 L234.83,555.34 L236.20,550.44 L237.58,545.69 L238.95,541.38 L240.33,537.71 L241.70,534.76 L243.08,532.47 L244.45,530.76 L245.82,529.52 L247.20,528.63 L248.57,528.00 L249.95,527.56 L251.32,527.26 L252.70,527.05 L254.07,526.90 L255.44,526.80 L256.82,526.73 L258.19,526.69 L259.57,526.65 L260.94,526.63 L262.32,526.62 L263.69,526.61 L265.06,526.60 L266.44,526.59 L267.81,526.59 L269.19,526.59 L270.56,526.59 L271.94,526.59 L273.31,526.59 L274.69,526.59 L276.06,526.58 L277.43,526.58 L278.81,526.58 L280.18,526.58 L281.56,526.58 L282.93,526.58 L284.31,526.58 L285.68,526.58 L287.05,526.58 L288.43,526.58 L289.80,526.58 L291.18,526.58 L292.55,526.58 L293.93,526.58 L295.30,526.58" stroke="#1d5290" stroke-width="1.2" fill="none"/>
<line x1="212.84" y1="566.28" x2="212.84" y2="573.43" stroke="#cc1236" stroke-width="0.8"/>
<line x1="211.64" y1="566.28" x2="214.04" y2="566.28" stroke="#cc1236" stroke-width="0.8"/>
<line x1="211.64" y1="573.43" x2="214.04" y2="573.43" stroke="#cc1236" stroke-width="0.8"/>
<rect x="211.34" y="568.35" width="3.00" height="3.00" fill="#cc1236"/>
<line x1="217.18" y1="542.20" x2="217.18" y2="556.50" stroke="#cc1236" stroke-width="0.8"/>
<line x1="215.98" y1="542.20" x2="218.38" y2="542.20" stroke="#cc1236" stroke-width="0.8"/>
<line x1="215.98" y1="556.50" x2="218.38" y2="556.50" stroke="#cc1236" stroke-width="0.8"/>
<rect x="215.68" y="547.85" width="3.00" height="3.00" fill="#cc1236"/>
<line x1="230.20" y1="526.58" x2="230.20" y2="532.54" stroke="#cc1236" stroke-width="0.8"/>
<line x1="229.00" y1="526.58" x2="231.40" y2="526.58" stroke="#cc1236" stroke-width="0.8"/>
<line x1="229.00" y1="532.54" x2="231.40" y2="532.54" stroke="#cc1236" stroke-width="0.8"/>
<rect x="228.70" y="528.06" width="3.00" height="3.00" fill="#cc1236"/>
<rect x="241.72" y="525.08" width="3.00" height="3.00" fill="#cc1236"/>
<rect x="254.74" y="524.49" width="3.00" height="3.00" fill="#cc1236"/>
<rect x="267.76" y="524.49" width="3.00" height="3.00" fill="#cc1236"/>
<rect x="280.78" y="524.49" width="3.00" height="3.00" fill="#cc1236"/>
<rect x="293.80" y="524.49" width="3.00" height="3.00" fill="#cc1236"/>
<line x1="212.84" y1="574.56" x2="212.84" y2="578.14" stroke="#1d5290" stroke-width="0.8"/>
<line x1="211.64" y1="574.56" x2="214.04" y2="574.56" stroke="#1d5290" stroke-width="0.8"/>
<line x1="211.64" y1="578.14" x2="214.04" y2="578.14" stroke="#1d5290" stroke-width="0.8"/>
<circle cx="212.84" cy="576.35" r="1.6" fill="#1d5290"/>
<line x1="217.18" y1="577.48" x2="217.18" y2="583.44" stroke="#1d5290" stroke-width="0.8"/>
<line x1="215.98" y1="577.48" x2="218.38" y2="577.48" stroke="#1d5290" stroke-width="0.8"/>
<line x1="215.98" y1="583.44" x2="218.38" y2="583.44" stroke="#1d5290" stroke-width="0.8"/>
<circle cx="217.18" cy="580.46" r="1.6" fill="#1d5290"/>
<line x1="230.20" y1="564.43" x2="230.20" y2="569.20" stroke="#1d5290" stroke-width="0.8"/>
<line x1="229.00" y1="564.43" x2="231.40" y2="564.43" stroke="#1d5290" stroke-width="0.8"/>
<line x1="229.00" y1="569.20" x2="231.40" y2="569.20" stroke="#1d5290" stroke-width="0.8"/>
<circle cx="230.20" cy="566.81" r="1.6" fill="#1d5290"/>
<circle cx="243.22" cy="532.13" r="1.6" fill="#1d5290"/>
<circle cx="256.24" cy="528.37" r="1.6" fill="#1d5290"/>
<circle cx="269.26" cy="526.88" r="1.6" fill="#1d5290"/>
<circle cx="282.28" cy="525.39" r="1.6" fill="#1d5290"/>
<circle cx="295.30" cy="524.20" r="1.6" fill="#1d5290"/>
<text x="271.00" y="577.40" font-size="7.3" fill="#1d5290" textLength="50" lengthAdjust="spacingAndGlyphs" stroke="#1d5290" stroke-width="0.12">IC50 = 16.4 nM</text>
<text x="271.00" y="586.80" font-size="7.3" fill="#cc1236" textLength="46" lengthAdjust="spacingAndGlyphs" stroke="#cc1236" stroke-width="0.12">IC50 = 2.2 nM</text>
<line x1="401.40" y1="520.20" x2="401.40" y2="590.90" stroke="#111" stroke-width="1"/>
<line x1="400.90" y1="590.40" x2="512.40" y2="590.40" stroke="#111" stroke-width="1"/>
<line x1="398.40" y1="583.80" x2="401.40" y2="583.80" stroke="#111" stroke-width="0.9"/>
<text x="394.30" y="586.50" font-size="7.6" text-anchor="end" stroke="#111" stroke-width="0.12">0</text>
<line x1="398.40" y1="568.90" x2="401.40" y2="568.90" stroke="#111" stroke-width="0.9"/>
<text x="394.30" y="571.60" font-size="7.6" text-anchor="end" stroke="#111" stroke-width="0.12">25</text>
<line x1="398.40" y1="554.00" x2="401.40" y2="554.00" stroke="#111" stroke-width="0.9"/>
<text x="394.30" y="556.70" font-size="7.6" text-anchor="end" stroke="#111" stroke-width="0.12">50</text>
<line x1="398.40" y1="539.10" x2="401.40" y2="539.10" stroke="#111" stroke-width="0.9"/>
<text x="394.30" y="541.80" font-size="7.6" text-anchor="end" stroke="#111" stroke-width="0.12">75</text>
<line x1="398.40" y1="524.20" x2="401.40" y2="524.20" stroke="#111" stroke-width="0.9"/>
<text x="394.30" y="526.90" font-size="7.6" text-anchor="end" stroke="#111" stroke-width="0.12">100</text>
<line x1="401.40" y1="590.40" x2="401.40" y2="593.00" stroke="#111" stroke-width="0.9"/>
<text x="401.40" y="601.70" font-size="7.6" text-anchor="middle" stroke="#111" stroke-width="0.12">0</text>
<line x1="407.93" y1="590.40" x2="407.93" y2="591.70" stroke="#111" stroke-width="0.6"/>
<line x1="411.75" y1="590.40" x2="411.75" y2="591.70" stroke="#111" stroke-width="0.6"/>
<line x1="414.46" y1="590.40" x2="414.46" y2="591.70" stroke="#111" stroke-width="0.6"/>
<line x1="416.57" y1="590.40" x2="416.57" y2="591.70" stroke="#111" stroke-width="0.6"/>
<line x1="418.29" y1="590.40" x2="418.29" y2="591.70" stroke="#111" stroke-width="0.6"/>
<line x1="419.74" y1="590.40" x2="419.74" y2="591.70" stroke="#111" stroke-width="0.6"/>
<line x1="421.00" y1="590.40" x2="421.00" y2="591.70" stroke="#111" stroke-width="0.6"/>
<line x1="422.11" y1="590.40" x2="422.11" y2="591.70" stroke="#111" stroke-width="0.6"/>
<line x1="423.10" y1="590.40" x2="423.10" y2="593.00" stroke="#111" stroke-width="0.9"/>
<text x="423.10" y="601.70" font-size="7.6" text-anchor="middle" stroke="#111" stroke-width="0.12">1</text>
<line x1="429.63" y1="590.40" x2="429.63" y2="591.70" stroke="#111" stroke-width="0.6"/>
<line x1="433.45" y1="590.40" x2="433.45" y2="591.70" stroke="#111" stroke-width="0.6"/>
<line x1="436.16" y1="590.40" x2="436.16" y2="591.70" stroke="#111" stroke-width="0.6"/>
<line x1="438.27" y1="590.40" x2="438.27" y2="591.70" stroke="#111" stroke-width="0.6"/>
<line x1="439.99" y1="590.40" x2="439.99" y2="591.70" stroke="#111" stroke-width="0.6"/>
<line x1="441.44" y1="590.40" x2="441.44" y2="591.70" stroke="#111" stroke-width="0.6"/>
<line x1="442.70" y1="590.40" x2="442.70" y2="591.70" stroke="#111" stroke-width="0.6"/>
<line x1="443.81" y1="590.40" x2="443.81" y2="591.70" stroke="#111" stroke-width="0.6"/>
<line x1="444.80" y1="590.40" x2="444.80" y2="593.00" stroke="#111" stroke-width="0.9"/>
<text x="444.80" y="601.70" font-size="7.6" text-anchor="middle" stroke="#111" stroke-width="0.12">2</text>
<line x1="451.33" y1="590.40" x2="451.33" y2="591.70" stroke="#111" stroke-width="0.6"/>
<line x1="455.15" y1="590.40" x2="455.15" y2="591.70" stroke="#111" stroke-width="0.6"/>
<line x1="457.86" y1="590.40" x2="457.86" y2="591.70" stroke="#111" stroke-width="0.6"/>
<line x1="459.97" y1="590.40" x2="459.97" y2="591.70" stroke="#111" stroke-width="0.6"/>
<line x1="461.69" y1="590.40" x2="461.69" y2="591.70" stroke="#111" stroke-width="0.6"/>
<line x1="463.14" y1="590.40" x2="463.14" y2="591.70" stroke="#111" stroke-width="0.6"/>
<line x1="464.40" y1="590.40" x2="464.40" y2="591.70" stroke="#111" stroke-width="0.6"/>
<line x1="465.51" y1="590.40" x2="465.51" y2="591.70" stroke="#111" stroke-width="0.6"/>
<line x1="466.50" y1="590.40" x2="466.50" y2="593.00" stroke="#111" stroke-width="0.9"/>
<text x="466.50" y="601.70" font-size="7.6" text-anchor="middle" stroke="#111" stroke-width="0.12">3</text>
<line x1="473.03" y1="590.40" x2="473.03" y2="591.70" stroke="#111" stroke-width="0.6"/>
<line x1="476.85" y1="590.40" x2="476.85" y2="591.70" stroke="#111" stroke-width="0.6"/>
<line x1="479.56" y1="590.40" x2="479.56" y2="591.70" stroke="#111" stroke-width="0.6"/>
<line x1="481.67" y1="590.40" x2="481.67" y2="591.70" stroke="#111" stroke-width="0.6"/>
<line x1="483.39" y1="590.40" x2="483.39" y2="591.70" stroke="#111" stroke-width="0.6"/>
<line x1="484.84" y1="590.40" x2="484.84" y2="591.70" stroke="#111" stroke-width="0.6"/>
<line x1="486.10" y1="590.40" x2="486.10" y2="591.70" stroke="#111" stroke-width="0.6"/>
<line x1="487.21" y1="590.40" x2="487.21" y2="591.70" stroke="#111" stroke-width="0.6"/>
<line x1="488.20" y1="590.40" x2="488.20" y2="593.00" stroke="#111" stroke-width="0.9"/>
<text x="488.20" y="601.70" font-size="7.6" text-anchor="middle" stroke="#111" stroke-width="0.12">4</text>
<line x1="494.73" y1="590.40" x2="494.73" y2="591.70" stroke="#111" stroke-width="0.6"/>
<line x1="498.55" y1="590.40" x2="498.55" y2="591.70" stroke="#111" stroke-width="0.6"/>
<line x1="501.26" y1="590.40" x2="501.26" y2="591.70" stroke="#111" stroke-width="0.6"/>
<line x1="503.37" y1="590.40" x2="503.37" y2="591.70" stroke="#111" stroke-width="0.6"/>
<line x1="505.09" y1="590.40" x2="505.09" y2="591.70" stroke="#111" stroke-width="0.6"/>
<line x1="506.54" y1="590.40" x2="506.54" y2="591.70" stroke="#111" stroke-width="0.6"/>
<line x1="507.80" y1="590.40" x2="507.80" y2="591.70" stroke="#111" stroke-width="0.6"/>
<line x1="508.91" y1="590.40" x2="508.91" y2="591.70" stroke="#111" stroke-width="0.6"/>
<line x1="509.90" y1="590.40" x2="509.90" y2="593.00" stroke="#111" stroke-width="0.9"/>
<text x="509.90" y="601.70" font-size="7.6" text-anchor="middle" stroke="#111" stroke-width="0.12">5</text>
<text transform="translate(457.60 614.40) scale(0.7458 1)" x="0" y="0" text-anchor="middle" stroke="#111" stroke-width="0.28"><tspan font-size="8.4">GSK46136 Log</tspan><tspan font-size="5.88" dy="2.10">10</tspan><tspan font-size="8.4" dy="-2.1">(nM)</tspan></text>
<text transform="translate(375.60 555.10) rotate(-90) scale(0.7517 1)" x="0" y="0" text-anchor="middle" stroke="#111" stroke-width="0.28"><tspan font-size="8.8">% Inhibition</tspan></text>
<path d="M405.74,568.25 L407.11,564.47 L408.49,560.32 L409.86,556.00 L411.24,551.70 L412.61,547.65 L413.99,544.01 L415.36,540.87 L416.73,538.27 L418.11,536.17 L419.48,534.52 L420.86,533.25 L422.23,532.29 L423.61,531.57 L424.98,531.04 L426.35,530.64 L427.73,530.35 L429.10,530.14 L430.48,529.98 L431.85,529.87 L433.23,529.78 L434.60,529.72 L435.98,529.68 L437.35,529.65 L438.72,529.63 L440.10,529.61 L441.47,529.60 L442.85,529.59 L444.22,529.58 L445.60,529.58 L446.97,529.57 L448.34,529.57 L449.72,529.57 L451.09,529.57 L452.47,529.57 L453.84,529.57 L455.22,529.57 L456.59,529.56 L457.96,529.56 L459.34,529.56 L460.71,529.56 L462.09,529.56 L463.46,529.56 L464.84,529.56 L466.21,529.56 L467.58,529.56 L468.96,529.56 L470.33,529.56 L471.71,529.56 L473.08,529.56 L474.46,529.56 L475.83,529.56 L477.21,529.56 L478.58,529.56 L479.95,529.56 L481.33,529.56 L482.70,529.56 L484.08,529.56 L485.45,529.56 L486.83,529.56 L488.20,529.56" stroke="#cc1236" stroke-width="1.2" fill="none"/>
<path d="M405.74,581.35 L407.11,581.31 L408.49,581.25 L409.86,581.15 L411.24,580.99 L412.61,580.74 L413.99,580.34 L415.36,579.72 L416.73,578.77 L418.11,577.32 L419.48,575.19 L420.86,572.16 L422.23,568.10 L423.61,563.06 L424.98,557.33 L426.35,551.47 L427.73,546.08 L429.10,541.59 L430.48,538.14 L431.85,535.65 L433.23,533.94 L434.60,532.80 L435.98,532.06 L437.35,531.58 L438.72,531.28 L440.10,531.08 L441.47,530.96 L442.85,530.89 L444.22,530.84 L445.60,530.81 L446.97,530.79 L448.34,530.78 L449.72,530.77 L451.09,530.76 L452.47,530.76 L453.84,530.76 L455.22,530.76 L456.59,530.76 L457.96,530.76 L459.34,530.76 L460.71,530.76 L462.09,530.76 L463.46,530.76 L464.84,530.76 L466.21,530.76 L467.58,530.76 L468.96,530.76 L470.33,530.76 L471.71,530.76 L473.08,530.76 L474.46,530.76 L475.83,530.76 L477.21,530.76 L478.58,530.76 L479.95,530.76 L481.33,530.76 L482.70,530.76 L484.08,530.76 L485.45,530.76 L486.83,530.76 L488.20,530.76" stroke="#1d5290" stroke-width="1.2" fill="none"/>
<line x1="405.74" y1="563.12" x2="405.74" y2="572.65" stroke="#cc1236" stroke-width="0.8"/>
<line x1="404.54" y1="563.12" x2="406.94" y2="563.12" stroke="#cc1236" stroke-width="0.8"/>
<line x1="404.54" y1="572.65" x2="406.94" y2="572.65" stroke="#cc1236" stroke-width="0.8"/>
<rect x="404.24" y="566.39" width="3.00" height="3.00" fill="#cc1236"/>
<line x1="410.08" y1="548.04" x2="410.08" y2="561.15" stroke="#cc1236" stroke-width="0.8"/>
<line x1="408.88" y1="548.04" x2="411.28" y2="548.04" stroke="#cc1236" stroke-width="0.8"/>
<line x1="408.88" y1="561.15" x2="411.28" y2="561.15" stroke="#cc1236" stroke-width="0.8"/>
<rect x="408.58" y="553.10" width="3.00" height="3.00" fill="#cc1236"/>
<line x1="423.10" y1="528.97" x2="423.10" y2="533.74" stroke="#cc1236" stroke-width="0.8"/>
<line x1="421.90" y1="528.97" x2="424.30" y2="528.97" stroke="#cc1236" stroke-width="0.8"/>
<line x1="421.90" y1="533.74" x2="424.30" y2="533.74" stroke="#cc1236" stroke-width="0.8"/>
<rect x="421.60" y="529.85" width="3.00" height="3.00" fill="#cc1236"/>
<rect x="434.62" y="525.08" width="3.00" height="3.00" fill="#cc1236"/>
<rect x="447.64" y="525.68" width="3.00" height="3.00" fill="#cc1236"/>
<rect x="460.66" y="526.87" width="3.00" height="3.00" fill="#cc1236"/>
<rect x="473.68" y="526.28" width="3.00" height="3.00" fill="#cc1236"/>
<rect x="486.70" y="526.28" width="3.00" height="3.00" fill="#cc1236"/>
<circle cx="405.74" cy="581.00" r="1.6" fill="#1d5290"/>
<circle cx="410.08" cy="579.03" r="1.6" fill="#1d5290"/>
<line x1="423.10" y1="562.94" x2="423.10" y2="570.09" stroke="#1d5290" stroke-width="0.8"/>
<line x1="421.90" y1="562.94" x2="424.30" y2="562.94" stroke="#1d5290" stroke-width="0.8"/>
<line x1="421.90" y1="570.09" x2="424.30" y2="570.09" stroke="#1d5290" stroke-width="0.8"/>
<circle cx="423.10" cy="566.52" r="1.6" fill="#1d5290"/>
<circle cx="436.12" cy="530.40" r="1.6" fill="#1d5290"/>
<circle cx="449.14" cy="527.42" r="1.6" fill="#1d5290"/>
<circle cx="462.16" cy="528.37" r="1.6" fill="#1d5290"/>
<circle cx="475.18" cy="530.76" r="1.6" fill="#1d5290"/>
<circle cx="488.20" cy="534.33" r="1.6" fill="#1d5290"/>
<text x="463.60" y="577.30" font-size="7.3" fill="#1d5290" textLength="50" lengthAdjust="spacingAndGlyphs" stroke="#1d5290" stroke-width="0.12">IC50 = 12.7 nM</text>
<text x="463.60" y="586.10" font-size="7.3" fill="#cc1236" textLength="46.2" lengthAdjust="spacingAndGlyphs" stroke="#cc1236" stroke-width="0.12">IC50 = 2.4 nM</text>
<line x1="286.80" y1="624.30" x2="295.40" y2="624.30" stroke="#1d5290" stroke-width="1.2"/>
<circle cx="291.10" cy="624.30" r="1.5" fill="#1d5290"/>
<text x="298.50" y="626.90" font-size="7.2" textLength="43" lengthAdjust="spacingAndGlyphs" stroke="#111" stroke-width="0.12">THP-1 + YFP</text>
<line x1="347.00" y1="624.30" x2="355.40" y2="624.30" stroke="#cc1236" stroke-width="1.2"/>
<rect x="349.70" y="622.80" width="3.00" height="3.00" fill="#cc1236"/>
<text x="358.50" y="626.90" font-size="7.2" textLength="72.3" lengthAdjust="spacingAndGlyphs" stroke="#111" stroke-width="0.12">THP-1 + HMGA2–YFP</text>
<text x="7.30" y="498.20" font-size="10" font-weight="bold" fill="#000" stroke="#000" stroke-width="0.35">F</text>
<text x="75.50" y="498.00" font-size="8.8" text-anchor="middle" font-style="italic" stroke="#111" stroke-width="0.12">PLK1</text>
<text x="81.50" y="509.90" font-size="7.9" text-anchor="middle" textLength="33.4" lengthAdjust="spacingAndGlyphs" stroke="#111" stroke-width="0.12">p=0.0182</text>
<line x1="57.40" y1="512.60" x2="105.90" y2="512.60" stroke="#111" stroke-width="1"/>
<line x1="40.30" y1="508.90" x2="40.30" y2="590.50" stroke="#111" stroke-width="1"/>
<line x1="39.80" y1="590.10" x2="129.40" y2="590.10" stroke="#111" stroke-width="1"/>
<line x1="37.30" y1="590.10" x2="40.30" y2="590.10" stroke="#111" stroke-width="0.9"/>
<text x="34.20" y="592.80" font-size="7.6" text-anchor="end" stroke="#111" stroke-width="0.12">0.5</text>
<line x1="37.30" y1="579.10" x2="40.30" y2="579.10" stroke="#111" stroke-width="0.9"/>
<text x="34.20" y="581.80" font-size="7.6" text-anchor="end" stroke="#111" stroke-width="0.12">1</text>
<line x1="37.30" y1="568.10" x2="40.30" y2="568.10" stroke="#111" stroke-width="0.9"/>
<text x="34.20" y="570.80" font-size="7.6" text-anchor="end" stroke="#111" stroke-width="0.12">2</text>
<line x1="37.30" y1="557.10" x2="40.30" y2="557.10" stroke="#111" stroke-width="0.9"/>
<text x="34.20" y="559.80" font-size="7.6" text-anchor="end" stroke="#111" stroke-width="0.12">4</text>
<line x1="37.30" y1="546.10" x2="40.30" y2="546.10" stroke="#111" stroke-width="0.9"/>
<text x="34.20" y="548.80" font-size="7.6" text-anchor="end" stroke="#111" stroke-width="0.12">8</text>
<line x1="37.30" y1="535.10" x2="40.30" y2="535.10" stroke="#111" stroke-width="0.9"/>
<text x="34.20" y="537.80" font-size="7.6" text-anchor="end" stroke="#111" stroke-width="0.12">16</text>
<line x1="37.30" y1="524.10" x2="40.30" y2="524.10" stroke="#111" stroke-width="0.9"/>
<text x="34.20" y="526.80" font-size="7.6" text-anchor="end" stroke="#111" stroke-width="0.12">32</text>
<line x1="37.30" y1="513.10" x2="40.30" y2="513.10" stroke="#111" stroke-width="0.9"/>
<text x="34.20" y="515.80" font-size="7.6" text-anchor="end" stroke="#111" stroke-width="0.12">64</text>
<line x1="56.30" y1="590.10" x2="56.30" y2="592.80" stroke="#111" stroke-width="0.9"/>
<line x1="106.30" y1="590.10" x2="106.30" y2="592.80" stroke="#111" stroke-width="0.9"/>
<text transform="translate(16.20 549.50) rotate(-90) scale(0.6074 1)" x="0" y="0" text-anchor="middle" stroke="#111" stroke-width="0.4"><tspan font-size="9.8">RPKM</tspan></text>
<text x="37.7" y="601.3" font-size="7.4"><tspan font-style="italic">HMGA2</tspan> null</text>
<text x="85" y="601.3" font-size="7.4"><tspan font-style="italic">HMGA2</tspan> high</text>
<line x1="46.00" y1="563.20" x2="68.50" y2="563.20" stroke="#6b6258" stroke-width="1.1"/>
<circle cx="57.40" cy="523.20" r="1.65" fill="#124b80"/>
<circle cx="54.90" cy="529.50" r="1.65" fill="#124b80"/>
<circle cx="59.50" cy="528.50" r="1.65" fill="#124b80"/>
<circle cx="47.90" cy="532.60" r="1.65" fill="#124b80"/>
<circle cx="54.90" cy="534.70" r="1.65" fill="#124b80"/>
<circle cx="50.20" cy="536.40" r="1.65" fill="#124b80"/>
<circle cx="59.50" cy="536.50" r="1.65" fill="#124b80"/>
<circle cx="61.90" cy="535.20" r="1.65" fill="#124b80"/>
<circle cx="64.10" cy="536.40" r="1.65" fill="#124b80"/>
<circle cx="66.60" cy="534.20" r="1.65" fill="#124b80"/>
<circle cx="54.90" cy="540.20" r="1.65" fill="#124b80"/>
<circle cx="48.20" cy="544.80" r="1.65" fill="#124b80"/>
<circle cx="52.70" cy="546.20" r="1.65" fill="#124b80"/>
<circle cx="61.70" cy="545.30" r="1.65" fill="#124b80"/>
<circle cx="66.40" cy="544.30" r="1.65" fill="#124b80"/>
<circle cx="57.30" cy="548.30" r="1.65" fill="#124b80"/>
<circle cx="48.75" cy="552.30" r="1.65" fill="#124b80"/>
<circle cx="51.00" cy="552.30" r="1.65" fill="#124b80"/>
<circle cx="54.75" cy="552.30" r="1.65" fill="#124b80"/>
<circle cx="59.50" cy="552.30" r="1.65" fill="#124b80"/>
<circle cx="63.50" cy="552.30" r="1.65" fill="#124b80"/>
<circle cx="65.50" cy="552.30" r="1.65" fill="#124b80"/>
<circle cx="59.25" cy="550.75" r="1.65" fill="#124b80"/>
<circle cx="53.50" cy="555.00" r="1.65" fill="#124b80"/>
<circle cx="55.50" cy="555.00" r="1.65" fill="#124b80"/>
<circle cx="57.50" cy="555.00" r="1.65" fill="#124b80"/>
<circle cx="59.75" cy="555.00" r="1.65" fill="#124b80"/>
<circle cx="48.00" cy="555.75" r="1.65" fill="#124b80"/>
<circle cx="50.00" cy="556.75" r="1.65" fill="#124b80"/>
<circle cx="52.25" cy="557.75" r="1.65" fill="#124b80"/>
<circle cx="54.50" cy="559.00" r="1.65" fill="#124b80"/>
<circle cx="56.50" cy="559.75" r="1.65" fill="#124b80"/>
<circle cx="59.00" cy="559.25" r="1.65" fill="#124b80"/>
<circle cx="61.25" cy="558.50" r="1.65" fill="#124b80"/>
<circle cx="63.75" cy="557.50" r="1.65" fill="#124b80"/>
<circle cx="66.00" cy="556.50" r="1.65" fill="#124b80"/>
<circle cx="54.75" cy="560.75" r="1.65" fill="#124b80"/>
<circle cx="50.00" cy="562.75" r="1.65" fill="#124b80"/>
<circle cx="52.75" cy="562.75" r="1.65" fill="#124b80"/>
<circle cx="55.25" cy="562.75" r="1.65" fill="#124b80"/>
<circle cx="58.00" cy="562.75" r="1.65" fill="#124b80"/>
<circle cx="60.50" cy="562.75" r="1.65" fill="#124b80"/>
<circle cx="64.00" cy="562.75" r="1.65" fill="#124b80"/>
<circle cx="52.75" cy="564.00" r="1.65" fill="#124b80"/>
<circle cx="58.50" cy="564.00" r="1.65" fill="#124b80"/>
<circle cx="61.25" cy="563.75" r="1.65" fill="#124b80"/>
<circle cx="55.75" cy="565.50" r="1.65" fill="#124b80"/>
<circle cx="47.50" cy="566.00" r="1.65" fill="#124b80"/>
<circle cx="49.75" cy="567.00" r="1.65" fill="#124b80"/>
<circle cx="52.00" cy="568.00" r="1.65" fill="#124b80"/>
<circle cx="54.25" cy="569.25" r="1.65" fill="#124b80"/>
<circle cx="56.50" cy="570.00" r="1.65" fill="#124b80"/>
<circle cx="58.75" cy="569.00" r="1.65" fill="#124b80"/>
<circle cx="61.00" cy="568.00" r="1.65" fill="#124b80"/>
<circle cx="63.25" cy="567.00" r="1.65" fill="#124b80"/>
<circle cx="66.00" cy="566.00" r="1.65" fill="#124b80"/>
<circle cx="50.00" cy="572.50" r="1.65" fill="#124b80"/>
<circle cx="52.75" cy="573.25" r="1.65" fill="#124b80"/>
<circle cx="56.50" cy="571.50" r="1.65" fill="#124b80"/>
<circle cx="61.50" cy="572.75" r="1.65" fill="#124b80"/>
<circle cx="64.25" cy="571.50" r="1.65" fill="#124b80"/>
<circle cx="55.75" cy="575.25" r="1.65" fill="#124b80"/>
<circle cx="58.50" cy="574.75" r="1.65" fill="#124b80"/>
<circle cx="48.00" cy="577.75" r="1.65" fill="#124b80"/>
<circle cx="50.25" cy="578.75" r="1.65" fill="#124b80"/>
<circle cx="52.75" cy="579.25" r="1.65" fill="#124b80"/>
<circle cx="55.25" cy="580.75" r="1.65" fill="#124b80"/>
<circle cx="57.25" cy="581.50" r="1.65" fill="#124b80"/>
<circle cx="59.25" cy="580.25" r="1.65" fill="#124b80"/>
<circle cx="61.25" cy="579.25" r="1.65" fill="#124b80"/>
<circle cx="63.75" cy="578.50" r="1.65" fill="#124b80"/>
<circle cx="66.25" cy="577.50" r="1.65" fill="#124b80"/>
<circle cx="48.25" cy="582.75" r="1.65" fill="#124b80"/>
<circle cx="52.50" cy="584.50" r="1.65" fill="#124b80"/>
<circle cx="66.25" cy="584.00" r="1.65" fill="#124b80"/>
<circle cx="57.25" cy="587.10" r="1.65" fill="#124b80"/>
<circle cx="61.75" cy="586.90" r="1.65" fill="#124b80"/>
<circle cx="106.20" cy="517.30" r="1.6" fill="#c8102e"/>
<circle cx="106.20" cy="529.30" r="1.6" fill="#c8102e"/>
<circle cx="101.40" cy="534.00" r="1.6" fill="#c8102e"/>
<circle cx="106.20" cy="534.80" r="1.6" fill="#c8102e"/>
<circle cx="110.90" cy="533.40" r="1.6" fill="#c8102e"/>
<circle cx="99.20" cy="538.00" r="1.6" fill="#c8102e"/>
<circle cx="104.00" cy="539.70" r="1.6" fill="#c8102e"/>
<circle cx="108.50" cy="538.60" r="1.6" fill="#c8102e"/>
<circle cx="113.40" cy="536.90" r="1.6" fill="#c8102e"/>
<circle cx="97.00" cy="541.00" r="1.6" fill="#c8102e"/>
<circle cx="101.40" cy="542.90" r="1.6" fill="#c8102e"/>
<circle cx="110.90" cy="542.60" r="1.6" fill="#c8102e"/>
<circle cx="115.30" cy="540.70" r="1.6" fill="#c8102e"/>
<circle cx="96.40" cy="546.60" r="1.6" fill="#c8102e"/>
<circle cx="100.40" cy="547.50" r="1.6" fill="#c8102e"/>
<circle cx="106.20" cy="545.10" r="1.6" fill="#c8102e"/>
<circle cx="111.90" cy="546.90" r="1.6" fill="#c8102e"/>
<circle cx="116.00" cy="546.00" r="1.6" fill="#c8102e"/>
<circle cx="99.20" cy="551.40" r="1.6" fill="#c8102e"/>
<circle cx="104.00" cy="550.40" r="1.6" fill="#c8102e"/>
<circle cx="108.10" cy="549.80" r="1.6" fill="#c8102e"/>
<circle cx="113.40" cy="552.10" r="1.6" fill="#c8102e"/>
<circle cx="104.00" cy="554.50" r="1.6" fill="#c8102e"/>
<circle cx="108.50" cy="555.50" r="1.6" fill="#c8102e"/>
<circle cx="101.40" cy="558.30" r="1.6" fill="#c8102e"/>
<circle cx="110.90" cy="559.00" r="1.6" fill="#c8102e"/>
<circle cx="106.20" cy="560.50" r="1.6" fill="#c8102e"/>
<circle cx="99.20" cy="562.40" r="1.6" fill="#c8102e"/>
<circle cx="104.00" cy="564.10" r="1.6" fill="#c8102e"/>
<circle cx="108.50" cy="565.30" r="1.6" fill="#c8102e"/>
<circle cx="113.40" cy="563.70" r="1.6" fill="#c8102e"/>
<circle cx="106.20" cy="570.00" r="1.6" fill="#c8102e"/>
<circle cx="98.60" cy="576.00" r="1.6" fill="#c8102e"/>
<circle cx="101.40" cy="577.20" r="1.6" fill="#c8102e"/>
<circle cx="104.00" cy="575.30" r="1.6" fill="#c8102e"/>
<circle cx="108.50" cy="575.50" r="1.6" fill="#c8102e"/>
<circle cx="104.60" cy="579.20" r="1.6" fill="#c8102e"/>
<circle cx="107.50" cy="579.70" r="1.6" fill="#c8102e"/>
<circle cx="110.90" cy="578.90" r="1.6" fill="#c8102e"/>
<circle cx="113.40" cy="577.00" r="1.6" fill="#c8102e"/>
<circle cx="106.20" cy="586.40" r="1.6" fill="#c8102e"/>
<line x1="94.90" y1="551.30" x2="117.90" y2="551.30" stroke="#222" stroke-width="1.1"/>
<rect x="0.5" y="0.5" width="519" height="632" fill="none" stroke="#000" stroke-width="1"/>
</svg>
</body></html>
